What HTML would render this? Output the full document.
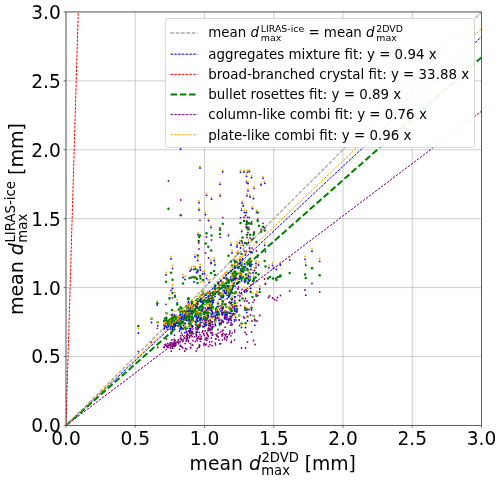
<!DOCTYPE html>
<html><head><meta charset="utf-8"><title>plot</title>
<style>
html,body{margin:0;padding:0;background:#fff;}
svg{display:block;}
text{font-family:"DejaVu Sans", "Liberation Sans", sans-serif;fill:#000;}
.b{fill:#00f}.o{fill:#ffa500}.p{fill:#800080}.g{fill:#008000}
</style></head><body>
<svg width="500" height="480" viewBox="0 0 500 480">
<rect width="500" height="480" fill="#fff"/>
<defs><clipPath id="ax"><rect x="66.00" y="11.95" width="415.50" height="413.45"/></clipPath></defs>
<g stroke="#b0b0b0" stroke-width="0.75" opacity="0.85"><line x1="66.00" y1="425.40" x2="66.00" y2="11.95"/><line x1="66.00" y1="425.40" x2="481.50" y2="425.40"/><line x1="135.25" y1="425.40" x2="135.25" y2="11.95"/><line x1="66.00" y1="356.49" x2="481.50" y2="356.49"/><line x1="204.50" y1="425.40" x2="204.50" y2="11.95"/><line x1="66.00" y1="287.58" x2="481.50" y2="287.58"/><line x1="273.75" y1="425.40" x2="273.75" y2="11.95"/><line x1="66.00" y1="218.67" x2="481.50" y2="218.67"/><line x1="343.00" y1="425.40" x2="343.00" y2="11.95"/><line x1="66.00" y1="149.77" x2="481.50" y2="149.77"/><line x1="412.25" y1="425.40" x2="412.25" y2="11.95"/><line x1="66.00" y1="80.86" x2="481.50" y2="80.86"/><line x1="481.50" y1="425.40" x2="481.50" y2="11.95"/><line x1="66.00" y1="11.95" x2="481.50" y2="11.95"/></g>
<g clip-path="url(#ax)"><line x1="66.00" y1="425.40" x2="481.50" y2="11.95" stroke="#a8a8a8" stroke-width="1.30" stroke-dasharray="3.7 1.6"/>
<g><circle class="b" cx="253" cy="273" r="0.9"/><circle class="g" cx="253" cy="281" r="1.25"/><circle class="p" cx="253" cy="302.3" r="0.9"/><circle class="o" cx="253" cy="270.5" r="0.9"/><circle class="b" cx="187.6" cy="312.8" r="0.9"/><circle class="g" cx="187.6" cy="308.3" r="1.25"/><circle class="p" cx="187.6" cy="334.3" r="0.9"/><circle class="o" cx="187.6" cy="308.3" r="0.9"/><circle class="b" cx="207.2" cy="312.9" r="0.9"/><circle class="g" cx="207.2" cy="310.2" r="1.25"/><circle class="p" cx="207.2" cy="334.2" r="0.9"/><circle class="o" cx="207.2" cy="308.1" r="0.9"/><circle class="g" cx="241" cy="269.5" r="1.25"/><circle class="b" cx="242.2" cy="203.2" r="0.9"/><circle class="o" cx="242.2" cy="201.3" r="0.9"/><circle class="b" cx="191" cy="331.6" r="0.9"/><circle class="g" cx="191" cy="324.9" r="1.25"/><circle class="o" cx="191" cy="326.3" r="0.9"/><circle class="g" cx="236" cy="262" r="1.25"/><circle class="p" cx="236" cy="320" r="0.9"/><circle class="b" cx="222.1" cy="288.1" r="0.9"/><circle class="g" cx="222.1" cy="284.8" r="1.25"/><circle class="p" cx="222.1" cy="313.6" r="0.9"/><circle class="o" cx="222.1" cy="284.3" r="0.9"/><circle class="b" cx="177.2" cy="303" r="0.9"/><circle class="g" cx="177.2" cy="304.5" r="1.25"/><circle class="b" cx="193.7" cy="311.4" r="0.9"/><circle class="g" cx="193.7" cy="305.1" r="1.25"/><circle class="p" cx="193.7" cy="333.6" r="0.9"/><circle class="o" cx="193.7" cy="306" r="0.9"/><circle class="b" cx="229.6" cy="293.9" r="0.9"/><circle class="g" cx="229.6" cy="286.5" r="1.25"/><circle class="p" cx="229.6" cy="319.3" r="0.9"/><circle class="o" cx="229.6" cy="289" r="0.9"/><circle class="b" cx="181.4" cy="311.4" r="0.9"/><circle class="g" cx="181.4" cy="308.3" r="1.25"/><circle class="p" cx="181.4" cy="333.1" r="0.9"/><circle class="o" cx="181.4" cy="307.1" r="0.9"/><circle class="b" cx="157.8" cy="325.7" r="0.9"/><circle class="g" cx="157.8" cy="322.3" r="1.25"/><circle class="p" cx="157.8" cy="347.5" r="0.9"/><circle class="o" cx="157.8" cy="322" r="0.9"/><circle class="b" cx="202.9" cy="307.8" r="0.9"/><circle class="g" cx="202.9" cy="307.3" r="1.25"/><circle class="p" cx="202.9" cy="331" r="0.9"/><circle class="o" cx="202.9" cy="303.6" r="0.9"/><circle class="b" cx="182.5" cy="316.4" r="0.9"/><circle class="g" cx="182.5" cy="311.3" r="1.25"/><circle class="o" cx="182.5" cy="313.1" r="0.9"/><circle class="b" cx="218.2" cy="317" r="0.9"/><circle class="g" cx="218.2" cy="313.3" r="1.25"/><circle class="p" cx="218.2" cy="337" r="0.9"/><circle class="o" cx="218.2" cy="312.7" r="0.9"/><circle class="b" cx="242.5" cy="259" r="0.9"/><circle class="g" cx="242.5" cy="237.5" r="1.25"/><circle class="g" cx="242.5" cy="271.5" r="1.25"/><circle class="g" cx="242.5" cy="298.5" r="1.25"/><circle class="o" cx="242.5" cy="256.5" r="0.9"/><circle class="o" cx="242.5" cy="295.3" r="0.9"/><circle class="b" cx="168.4" cy="327" r="0.9"/><circle class="g" cx="168.4" cy="322.5" r="1.25"/><circle class="p" cx="168.4" cy="345.4" r="0.9"/><circle class="o" cx="168.4" cy="322.5" r="0.9"/><circle class="b" cx="226.6" cy="291.9" r="0.9"/><circle class="b" cx="226.6" cy="319.5" r="0.9"/><circle class="g" cx="226.6" cy="289.9" r="1.25"/><circle class="g" cx="226.6" cy="314.6" r="1.25"/><circle class="p" cx="226.6" cy="316.9" r="0.9"/><circle class="p" cx="226.6" cy="340.1" r="0.9"/><circle class="o" cx="226.6" cy="288.2" r="0.9"/><circle class="o" cx="226.6" cy="314.7" r="0.9"/><circle class="g" cx="276.5" cy="280" r="1.25"/><circle class="p" cx="276.5" cy="300.3" r="0.9"/><circle class="o" cx="208" cy="280" r="0.9"/><circle class="b" cx="226.2" cy="283.9" r="0.9"/><circle class="g" cx="226.2" cy="278.3" r="1.25"/><circle class="p" cx="226.2" cy="311.7" r="0.9"/><circle class="o" cx="226.2" cy="280.5" r="0.9"/><circle class="b" cx="187.1" cy="314.3" r="0.9"/><circle class="b" cx="187.1" cy="315.7" r="0.9"/><circle class="g" cx="187.1" cy="311.3" r="1.25"/><circle class="g" cx="187.1" cy="311.9" r="1.25"/><circle class="p" cx="187.1" cy="335.5" r="0.9"/><circle class="p" cx="187.1" cy="336.2" r="0.9"/><circle class="o" cx="187.1" cy="309.6" r="0.9"/><circle class="o" cx="187.1" cy="311.4" r="0.9"/><circle class="b" cx="219.9" cy="293.2" r="0.9"/><circle class="g" cx="219.9" cy="294.2" r="1.25"/><circle class="p" cx="219.9" cy="319.3" r="0.9"/><circle class="o" cx="219.9" cy="288.7" r="0.9"/><circle class="b" cx="202.3" cy="310.9" r="0.9"/><circle class="g" cx="202.3" cy="302" r="1.25"/><circle class="p" cx="202.3" cy="332.3" r="0.9"/><circle class="o" cx="202.3" cy="306.7" r="0.9"/><circle class="b" cx="199.1" cy="326.8" r="0.9"/><circle class="g" cx="199.1" cy="325.6" r="1.25"/><circle class="p" cx="199.1" cy="347" r="0.9"/><circle class="o" cx="199.1" cy="322.4" r="0.9"/><circle class="b" cx="190" cy="271" r="0.9"/><circle class="o" cx="190" cy="268.5" r="0.9"/><circle class="b" cx="232.1" cy="299.8" r="0.9"/><circle class="b" cx="232.1" cy="311.1" r="0.9"/><circle class="g" cx="232.1" cy="292.8" r="1.25"/><circle class="g" cx="232.1" cy="305.3" r="1.25"/><circle class="p" cx="232.1" cy="324.4" r="0.9"/><circle class="p" cx="232.1" cy="333.1" r="0.9"/><circle class="o" cx="232.1" cy="295.5" r="0.9"/><circle class="o" cx="232.1" cy="306.4" r="0.9"/><circle class="b" cx="224" cy="278" r="0.9"/><circle class="b" cx="210.7" cy="302" r="0.9"/><circle class="g" cx="210.7" cy="300.8" r="1.25"/><circle class="p" cx="210.7" cy="324.9" r="0.9"/><circle class="o" cx="210.7" cy="298.8" r="0.9"/><circle class="b" cx="180.6" cy="316.7" r="0.9"/><circle class="b" cx="180.6" cy="318.5" r="0.9"/><circle class="b" cx="180.6" cy="326.5" r="0.9"/><circle class="g" cx="180.6" cy="307.3" r="1.25"/><circle class="g" cx="180.6" cy="310.8" r="1.25"/><circle class="g" cx="180.6" cy="328.8" r="1.25"/><circle class="p" cx="180.6" cy="338.1" r="0.9"/><circle class="p" cx="180.6" cy="338.6" r="0.9"/><circle class="p" cx="180.6" cy="345.3" r="0.9"/><circle class="o" cx="180.6" cy="311.7" r="0.9"/><circle class="o" cx="180.6" cy="314.1" r="0.9"/><circle class="o" cx="180.6" cy="321.4" r="0.9"/><circle class="b" cx="210.6" cy="303.2" r="0.9"/><circle class="g" cx="210.6" cy="300.6" r="1.25"/><circle class="p" cx="210.6" cy="326.3" r="0.9"/><circle class="o" cx="210.6" cy="300.1" r="0.9"/><circle class="b" cx="246.3" cy="212.5" r="0.9"/><circle class="p" cx="246.3" cy="251.5" r="0.9"/><circle class="o" cx="246.3" cy="210.6" r="0.9"/><circle class="b" cx="251.9" cy="264.6" r="0.9"/><circle class="g" cx="251.9" cy="252.6" r="1.25"/><circle class="o" cx="251.9" cy="261.3" r="0.9"/><circle class="b" cx="241.5" cy="210.2" r="0.9"/><circle class="b" cx="241.5" cy="266" r="0.9"/><circle class="b" cx="241.5" cy="269" r="0.9"/><circle class="b" cx="241.5" cy="327.5" r="0.9"/><circle class="g" cx="241.5" cy="241" r="1.25"/><circle class="g" cx="241.5" cy="254" r="1.25"/><circle class="g" cx="241.5" cy="262.8" r="1.25"/><circle class="g" cx="241.5" cy="278.5" r="1.25"/><circle class="g" cx="241.5" cy="323.5" r="1.25"/><circle class="p" cx="241.5" cy="293.5" r="0.9"/><circle class="p" cx="241.5" cy="348" r="0.9"/><circle class="o" cx="241.5" cy="208.3" r="0.9"/><circle class="o" cx="241.5" cy="263.5" r="0.9"/><circle class="o" cx="241.5" cy="266.2" r="0.9"/><circle class="o" cx="241.5" cy="324.5" r="0.9"/><circle class="b" cx="251.5" cy="177.5" r="0.9"/><circle class="b" cx="251.5" cy="310" r="0.9"/><circle class="g" cx="251.5" cy="223.7" r="1.25"/><circle class="g" cx="251.5" cy="308" r="1.25"/><circle class="p" cx="251.5" cy="222" r="0.9"/><circle class="p" cx="251.5" cy="332" r="0.9"/><circle class="o" cx="251.5" cy="175.8" r="0.9"/><circle class="o" cx="251.5" cy="306" r="0.9"/><circle class="g" cx="252.5" cy="297" r="1.25"/><circle class="g" cx="255" cy="320.5" r="1.25"/><circle class="p" cx="255" cy="344.5" r="0.9"/><circle class="o" cx="255" cy="319.5" r="0.9"/><circle class="b" cx="196.4" cy="312" r="0.9"/><circle class="b" cx="196.4" cy="314.1" r="0.9"/><circle class="g" cx="196.4" cy="308.1" r="1.25"/><circle class="g" cx="196.4" cy="311.3" r="1.25"/><circle class="p" cx="196.4" cy="334.5" r="0.9"/><circle class="p" cx="196.4" cy="335.2" r="0.9"/><circle class="o" cx="196.4" cy="307.7" r="0.9"/><circle class="o" cx="196.4" cy="308.7" r="0.9"/><circle class="b" cx="269" cy="267.7" r="0.9"/><circle class="o" cx="269" cy="265.2" r="0.9"/><circle class="o" cx="177" cy="299.8" r="0.9"/><circle class="p" cx="251" cy="285" r="0.9"/><circle class="b" cx="192.8" cy="321.1" r="0.9"/><circle class="g" cx="192.8" cy="320.3" r="1.25"/><circle class="p" cx="192.8" cy="340.6" r="0.9"/><circle class="o" cx="192.8" cy="316.5" r="0.9"/><circle class="b" cx="235.7" cy="291.6" r="0.9"/><circle class="g" cx="235.7" cy="292.4" r="1.25"/><circle class="p" cx="235.7" cy="317.5" r="0.9"/><circle class="o" cx="235.7" cy="288.1" r="0.9"/><circle class="b" cx="225.3" cy="315.2" r="0.9"/><circle class="g" cx="225.3" cy="312.8" r="1.25"/><circle class="p" cx="225.3" cy="335.9" r="0.9"/><circle class="o" cx="225.3" cy="310.8" r="0.9"/><circle class="b" cx="226" cy="275" r="0.9"/><circle class="b" cx="203.7" cy="313.4" r="0.9"/><circle class="g" cx="203.7" cy="312.6" r="1.25"/><circle class="p" cx="203.7" cy="334" r="0.9"/><circle class="o" cx="203.7" cy="309.3" r="0.9"/><circle class="g" cx="198.7" cy="241" r="1.25"/><circle class="b" cx="197.5" cy="308.2" r="0.9"/><circle class="b" cx="197.5" cy="318.2" r="0.9"/><circle class="g" cx="197.5" cy="271.5" r="1.25"/><circle class="g" cx="197.5" cy="283" r="1.25"/><circle class="g" cx="197.5" cy="303.4" r="1.25"/><circle class="g" cx="197.5" cy="315.4" r="1.25"/><circle class="p" cx="197.5" cy="329.6" r="0.9"/><circle class="p" cx="197.5" cy="337.9" r="0.9"/><circle class="o" cx="197.5" cy="273.5" r="0.9"/><circle class="o" cx="197.5" cy="305.1" r="0.9"/><circle class="o" cx="197.5" cy="314.5" r="0.9"/><circle class="g" cx="214" cy="271" r="1.25"/><circle class="g" cx="273" cy="278.5" r="1.25"/><circle class="b" cx="166.7" cy="327.6" r="0.9"/><circle class="g" cx="166.7" cy="318.9" r="1.25"/><circle class="p" cx="166.7" cy="345.9" r="0.9"/><circle class="o" cx="166.7" cy="322.3" r="0.9"/><circle class="p" cx="274.5" cy="299.5" r="0.9"/><circle class="b" cx="244.7" cy="282.2" r="0.9"/><circle class="g" cx="244.7" cy="280.7" r="1.25"/><circle class="o" cx="244.7" cy="278.3" r="0.9"/><circle class="b" cx="280.3" cy="265" r="0.9"/><circle class="o" cx="280.3" cy="262.3" r="0.9"/><circle class="b" cx="208.5" cy="220.7" r="0.9"/><circle class="b" cx="208.5" cy="301" r="0.9"/><circle class="b" cx="208.5" cy="328.2" r="0.9"/><circle class="g" cx="208.5" cy="297.6" r="1.25"/><circle class="g" cx="208.5" cy="323.6" r="1.25"/><circle class="p" cx="208.5" cy="258" r="0.9"/><circle class="p" cx="208.5" cy="325.6" r="0.9"/><circle class="p" cx="208.5" cy="346.3" r="0.9"/><circle class="o" cx="208.5" cy="218.9" r="0.9"/><circle class="o" cx="208.5" cy="296.7" r="0.9"/><circle class="o" cx="208.5" cy="323.2" r="0.9"/><circle class="b" cx="228.2" cy="293.1" r="0.9"/><circle class="g" cx="228.2" cy="286.1" r="1.25"/><circle class="p" cx="228.2" cy="319.2" r="0.9"/><circle class="o" cx="228.2" cy="289.5" r="0.9"/><circle class="b" cx="230.8" cy="277.1" r="0.9"/><circle class="b" cx="230.8" cy="303.2" r="0.9"/><circle class="g" cx="230.8" cy="271.3" r="1.25"/><circle class="g" cx="230.8" cy="303.1" r="1.25"/><circle class="p" cx="230.8" cy="303.7" r="0.9"/><circle class="p" cx="230.8" cy="325.2" r="0.9"/><circle class="o" cx="230.8" cy="273.7" r="0.9"/><circle class="o" cx="230.8" cy="299.2" r="0.9"/><circle class="b" cx="183.6" cy="325.5" r="0.9"/><circle class="g" cx="183.6" cy="323.3" r="1.25"/><circle class="o" cx="183.6" cy="320.2" r="0.9"/><circle class="b" cx="195.9" cy="322.4" r="0.9"/><circle class="g" cx="195.9" cy="324.4" r="1.25"/><circle class="o" cx="195.9" cy="317.8" r="0.9"/><circle class="b" cx="171.7" cy="326" r="0.9"/><circle class="g" cx="171.7" cy="323.5" r="1.25"/><circle class="o" cx="171.7" cy="321.7" r="0.9"/><circle class="g" cx="278" cy="277" r="1.25"/><circle class="b" cx="243.4" cy="271.8" r="0.9"/><circle class="g" cx="243.4" cy="266.9" r="1.25"/><circle class="o" cx="243.4" cy="267.9" r="0.9"/><circle class="g" cx="259" cy="225.7" r="1.25"/><circle class="b" cx="218.6" cy="288.4" r="0.9"/><circle class="b" cx="218.6" cy="291.7" r="0.9"/><circle class="g" cx="218.6" cy="282.6" r="1.25"/><circle class="g" cx="218.6" cy="287.8" r="1.25"/><circle class="p" cx="218.6" cy="314.3" r="0.9"/><circle class="p" cx="218.6" cy="317" r="0.9"/><circle class="o" cx="218.6" cy="284.2" r="0.9"/><circle class="o" cx="218.6" cy="286.8" r="0.9"/><circle class="b" cx="221.3" cy="297.2" r="0.9"/><circle class="g" cx="221.3" cy="292.9" r="1.25"/><circle class="p" cx="221.3" cy="322.4" r="0.9"/><circle class="o" cx="221.3" cy="292.8" r="0.9"/><circle class="b" cx="192.2" cy="304.7" r="0.9"/><circle class="b" cx="192.2" cy="310.3" r="0.9"/><circle class="b" cx="192.2" cy="316.2" r="0.9"/><circle class="g" cx="192.2" cy="301.5" r="1.25"/><circle class="g" cx="192.2" cy="304.2" r="1.25"/><circle class="g" cx="192.2" cy="308.4" r="1.25"/><circle class="p" cx="192.2" cy="327.7" r="0.9"/><circle class="p" cx="192.2" cy="332.2" r="0.9"/><circle class="p" cx="192.2" cy="336.4" r="0.9"/><circle class="o" cx="192.2" cy="300.4" r="0.9"/><circle class="o" cx="192.2" cy="305.9" r="0.9"/><circle class="o" cx="192.2" cy="312.1" r="0.9"/><circle class="b" cx="165.7" cy="323.5" r="0.9"/><circle class="g" cx="165.7" cy="319" r="1.25"/><circle class="p" cx="165.7" cy="344.3" r="0.9"/><circle class="o" cx="165.7" cy="320.5" r="0.9"/><circle class="b" cx="220" cy="184.3" r="0.9"/><circle class="g" cx="220" cy="229.8" r="1.25"/><circle class="g" cx="220" cy="234" r="1.25"/><circle class="p" cx="220" cy="228" r="0.9"/><circle class="o" cx="220" cy="182.6" r="0.9"/><circle class="o" cx="220" cy="279" r="0.9"/><circle class="b" cx="305" cy="259.3" r="0.9"/><circle class="g" cx="305" cy="274.5" r="1.25"/><circle class="p" cx="305" cy="290" r="0.9"/><circle class="o" cx="305" cy="256.5" r="0.9"/><circle class="b" cx="192.6" cy="312.3" r="0.9"/><circle class="b" cx="192.6" cy="326.3" r="0.9"/><circle class="g" cx="192.6" cy="311.2" r="1.25"/><circle class="g" cx="192.6" cy="318.2" r="1.25"/><circle class="p" cx="192.6" cy="333.6" r="0.9"/><circle class="p" cx="192.6" cy="345.2" r="0.9"/><circle class="o" cx="192.6" cy="307.6" r="0.9"/><circle class="o" cx="192.6" cy="321.6" r="0.9"/><circle class="b" cx="222.4" cy="320.3" r="0.9"/><circle class="g" cx="222.4" cy="312.8" r="1.25"/><circle class="p" cx="222.4" cy="340.1" r="0.9"/><circle class="o" cx="222.4" cy="315.5" r="0.9"/><circle class="b" cx="221.7" cy="312" r="0.9"/><circle class="g" cx="221.7" cy="306.8" r="1.25"/><circle class="p" cx="221.7" cy="334.6" r="0.9"/><circle class="o" cx="221.7" cy="307.9" r="0.9"/><circle class="b" cx="206.2" cy="325.2" r="0.9"/><circle class="g" cx="206.2" cy="317.9" r="1.25"/><circle class="p" cx="206.2" cy="344.1" r="0.9"/><circle class="o" cx="206.2" cy="320.8" r="0.9"/><circle class="b" cx="209.6" cy="323.4" r="0.9"/><circle class="g" cx="209.6" cy="320.3" r="1.25"/><circle class="p" cx="209.6" cy="341.9" r="0.9"/><circle class="o" cx="209.6" cy="318.9" r="0.9"/><circle class="b" cx="165.9" cy="326.5" r="0.9"/><circle class="g" cx="165.9" cy="321.1" r="1.25"/><circle class="p" cx="165.9" cy="345.5" r="0.9"/><circle class="o" cx="165.9" cy="321.8" r="0.9"/><circle class="b" cx="181.9" cy="319" r="0.9"/><circle class="g" cx="181.9" cy="312.3" r="1.25"/><circle class="p" cx="181.9" cy="339.7" r="0.9"/><circle class="o" cx="181.9" cy="314.5" r="0.9"/><circle class="b" cx="241.9" cy="278.6" r="0.9"/><circle class="g" cx="241.9" cy="277.1" r="1.25"/><circle class="o" cx="241.9" cy="274.1" r="0.9"/><circle class="b" cx="200.9" cy="298.7" r="0.9"/><circle class="g" cx="200.9" cy="301.5" r="1.25"/><circle class="p" cx="200.9" cy="322.2" r="0.9"/><circle class="o" cx="200.9" cy="294.7" r="0.9"/><circle class="b" cx="189.7" cy="315.8" r="0.9"/><circle class="g" cx="189.7" cy="319.3" r="1.25"/><circle class="p" cx="189.7" cy="336.9" r="0.9"/><circle class="o" cx="189.7" cy="311.8" r="0.9"/><circle class="b" cx="204.1" cy="323.6" r="0.9"/><circle class="g" cx="204.1" cy="317" r="1.25"/><circle class="p" cx="204.1" cy="343.4" r="0.9"/><circle class="o" cx="204.1" cy="319.8" r="0.9"/><circle class="b" cx="166" cy="275" r="0.9"/><circle class="g" cx="166" cy="281.7" r="1.25"/><circle class="p" cx="166" cy="304.3" r="0.9"/><circle class="o" cx="166" cy="272.5" r="0.9"/><circle class="b" cx="202.5" cy="274" r="0.9"/><circle class="b" cx="202.5" cy="309.5" r="0.9"/><circle class="g" cx="202.5" cy="307" r="1.25"/><circle class="o" cx="202.5" cy="305.2" r="0.9"/><circle class="g" cx="168.5" cy="208.8" r="1.25"/><circle class="g" cx="168.5" cy="320.3" r="1.25"/><circle class="p" cx="168.5" cy="181" r="0.9"/><circle class="p" cx="168.5" cy="345.5" r="0.9"/><circle class="b" cx="272.5" cy="265.5" r="0.9"/><circle class="o" cx="272.5" cy="262.8" r="0.9"/><circle class="b" cx="200.4" cy="301.5" r="0.9"/><circle class="b" cx="200.4" cy="322.5" r="0.9"/><circle class="g" cx="200.4" cy="299.7" r="1.25"/><circle class="g" cx="200.4" cy="318.6" r="1.25"/><circle class="p" cx="200.4" cy="325.5" r="0.9"/><circle class="p" cx="200.4" cy="341.3" r="0.9"/><circle class="o" cx="200.4" cy="296.3" r="0.9"/><circle class="o" cx="200.4" cy="317.7" r="0.9"/><circle class="b" cx="206.5" cy="195.3" r="0.9"/><circle class="b" cx="206.5" cy="278.5" r="0.9"/><circle class="g" cx="206.5" cy="233.3" r="1.25"/><circle class="p" cx="206.5" cy="237" r="0.9"/><circle class="o" cx="206.5" cy="193.5" r="0.9"/><circle class="o" cx="206.5" cy="275.5" r="0.9"/><circle class="b" cx="319.7" cy="261.3" r="0.9"/><circle class="g" cx="319.7" cy="275.3" r="1.25"/><circle class="p" cx="319.7" cy="292" r="0.9"/><circle class="o" cx="319.7" cy="258.5" r="0.9"/><circle class="b" cx="186.3" cy="316.5" r="0.9"/><circle class="b" cx="186.3" cy="317" r="0.9"/><circle class="g" cx="186.3" cy="312.1" r="1.25"/><circle class="g" cx="186.3" cy="316.4" r="1.25"/><circle class="p" cx="186.3" cy="336.5" r="0.9"/><circle class="p" cx="186.3" cy="339.1" r="0.9"/><circle class="o" cx="186.3" cy="312.2" r="0.9"/><circle class="o" cx="186.3" cy="312.8" r="0.9"/><circle class="b" cx="189.1" cy="308.9" r="0.9"/><circle class="g" cx="189.1" cy="303.7" r="1.25"/><circle class="p" cx="189.1" cy="331" r="0.9"/><circle class="o" cx="189.1" cy="304.7" r="0.9"/><circle class="b" cx="246.7" cy="278.3" r="0.9"/><circle class="b" cx="246.7" cy="312.5" r="0.9"/><circle class="g" cx="246.7" cy="278.3" r="1.25"/><circle class="g" cx="246.7" cy="309.5" r="1.25"/><circle class="o" cx="246.7" cy="274.9" r="0.9"/><circle class="b" cx="204.5" cy="273.5" r="0.9"/><circle class="o" cx="204.5" cy="271" r="0.9"/><circle class="g" cx="243" cy="277" r="1.25"/><circle class="p" cx="243.5" cy="317" r="0.9"/><circle class="b" cx="220.7" cy="324" r="0.9"/><circle class="g" cx="220.7" cy="319.9" r="1.25"/><circle class="p" cx="220.7" cy="343.6" r="0.9"/><circle class="o" cx="220.7" cy="319.8" r="0.9"/><circle class="b" cx="166.3" cy="317.3" r="0.9"/><circle class="b" cx="228.5" cy="235.5" r="0.9"/><circle class="b" cx="228.5" cy="295.8" r="0.9"/><circle class="b" cx="228.5" cy="297.4" r="0.9"/><circle class="g" cx="228.5" cy="255.7" r="1.25"/><circle class="g" cx="228.5" cy="287.1" r="1.25"/><circle class="g" cx="228.5" cy="288.5" r="1.25"/><circle class="p" cx="228.5" cy="320" r="0.9"/><circle class="p" cx="228.5" cy="321.9" r="0.9"/><circle class="o" cx="228.5" cy="233.7" r="0.9"/><circle class="o" cx="228.5" cy="292.2" r="0.9"/><circle class="o" cx="228.5" cy="292.7" r="0.9"/><circle class="b" cx="249.3" cy="171.5" r="0.9"/><circle class="b" cx="249.3" cy="229.3" r="0.9"/><circle class="p" cx="249.3" cy="217.5" r="0.9"/><circle class="o" cx="249.3" cy="169.8" r="0.9"/><circle class="o" cx="249.3" cy="227.4" r="0.9"/><circle class="p" cx="265.3" cy="284" r="0.9"/><circle class="b" cx="202.2" cy="294.9" r="0.9"/><circle class="g" cx="202.2" cy="291.2" r="1.25"/><circle class="p" cx="202.2" cy="320" r="0.9"/><circle class="o" cx="202.2" cy="291" r="0.9"/><circle class="b" cx="167.5" cy="329.3" r="0.9"/><circle class="g" cx="167.5" cy="323.1" r="1.25"/><circle class="p" cx="167.5" cy="347.4" r="0.9"/><circle class="o" cx="167.5" cy="323.7" r="0.9"/><circle class="b" cx="201.2" cy="314.8" r="0.9"/><circle class="g" cx="201.2" cy="307" r="1.25"/><circle class="p" cx="201.2" cy="336.3" r="0.9"/><circle class="o" cx="201.2" cy="310.2" r="0.9"/><circle class="b" cx="201.4" cy="318.2" r="0.9"/><circle class="g" cx="201.4" cy="314.6" r="1.25"/><circle class="p" cx="201.4" cy="338.3" r="0.9"/><circle class="o" cx="201.4" cy="314.1" r="0.9"/><circle class="b" cx="173.9" cy="326.5" r="0.9"/><circle class="g" cx="173.9" cy="324.4" r="1.25"/><circle class="p" cx="173.9" cy="345.5" r="0.9"/><circle class="o" cx="173.9" cy="322.4" r="0.9"/><circle class="b" cx="243.2" cy="206" r="0.9"/><circle class="o" cx="243.2" cy="204.1" r="0.9"/><circle class="b" cx="256.5" cy="212.3" r="0.9"/><circle class="g" cx="256.5" cy="242" r="1.25"/><circle class="g" cx="256.5" cy="296" r="1.25"/><circle class="p" cx="256.5" cy="251" r="0.9"/><circle class="o" cx="256.5" cy="210.4" r="0.9"/><circle class="o" cx="256.5" cy="291.5" r="0.9"/><circle class="b" cx="238.5" cy="268.4" r="0.9"/><circle class="g" cx="238.5" cy="263.9" r="1.25"/><circle class="p" cx="238.5" cy="287" r="0.9"/><circle class="o" cx="238.5" cy="265" r="0.9"/><circle class="b" cx="185" cy="279.5" r="0.9"/><circle class="b" cx="185" cy="317.5" r="0.9"/><circle class="g" cx="185" cy="313.6" r="1.25"/><circle class="o" cx="185" cy="276.5" r="0.9"/><circle class="o" cx="185" cy="313.6" r="0.9"/><circle class="b" cx="239.5" cy="243" r="0.9"/><circle class="b" cx="239.5" cy="263.5" r="0.9"/><circle class="g" cx="239.5" cy="300.5" r="1.25"/><circle class="p" cx="239.5" cy="282" r="0.9"/><circle class="p" cx="239.5" cy="292.5" r="0.9"/><circle class="p" cx="239.5" cy="325.5" r="0.9"/><circle class="o" cx="239.5" cy="240.5" r="0.9"/><circle class="o" cx="239.5" cy="261" r="0.9"/><circle class="o" cx="239.5" cy="297.5" r="0.9"/><circle class="p" cx="272.7" cy="298" r="0.9"/><circle class="b" cx="231" cy="245" r="0.9"/><circle class="b" cx="231" cy="313.6" r="0.9"/><circle class="g" cx="231" cy="261.5" r="1.25"/><circle class="g" cx="231" cy="311.3" r="1.25"/><circle class="p" cx="231" cy="279" r="0.9"/><circle class="p" cx="231" cy="335.8" r="0.9"/><circle class="o" cx="231" cy="243" r="0.9"/><circle class="o" cx="231" cy="309.4" r="0.9"/><circle class="b" cx="180.3" cy="328.4" r="0.9"/><circle class="g" cx="180.3" cy="325.2" r="1.25"/><circle class="p" cx="180.3" cy="346.2" r="0.9"/><circle class="o" cx="180.3" cy="323.1" r="0.9"/><circle class="b" cx="250.9" cy="269.5" r="0.9"/><circle class="g" cx="250.9" cy="264.2" r="1.25"/><circle class="o" cx="250.9" cy="266.3" r="0.9"/><circle class="b" cx="190.4" cy="310.6" r="0.9"/><circle class="b" cx="190.4" cy="323.7" r="0.9"/><circle class="g" cx="190.4" cy="307.5" r="1.25"/><circle class="g" cx="190.4" cy="321.6" r="1.25"/><circle class="p" cx="190.4" cy="332.4" r="0.9"/><circle class="p" cx="190.4" cy="343.6" r="0.9"/><circle class="o" cx="190.4" cy="306.4" r="0.9"/><circle class="o" cx="190.4" cy="320.2" r="0.9"/><circle class="b" cx="207.7" cy="317" r="0.9"/><circle class="g" cx="207.7" cy="310.3" r="1.25"/><circle class="p" cx="207.7" cy="338.4" r="0.9"/><circle class="o" cx="207.7" cy="312" r="0.9"/><circle class="b" cx="233.8" cy="280" r="0.9"/><circle class="g" cx="233.8" cy="278.6" r="1.25"/><circle class="p" cx="233.8" cy="307.8" r="0.9"/><circle class="o" cx="233.8" cy="276.1" r="0.9"/><circle class="o" cx="217" cy="282" r="0.9"/><circle class="b" cx="230" cy="290.4" r="0.9"/><circle class="b" cx="230" cy="293.9" r="0.9"/><circle class="b" cx="230" cy="309.5" r="0.9"/><circle class="g" cx="230" cy="291.6" r="1.25"/><circle class="g" cx="230" cy="291.6" r="1.25"/><circle class="g" cx="230" cy="302.8" r="1.25"/><circle class="p" cx="230" cy="316.3" r="0.9"/><circle class="p" cx="230" cy="318.4" r="0.9"/><circle class="p" cx="230" cy="330.9" r="0.9"/><circle class="o" cx="230" cy="287.1" r="0.9"/><circle class="o" cx="230" cy="289.6" r="0.9"/><circle class="o" cx="230" cy="304.8" r="0.9"/><circle class="b" cx="224.6" cy="292.4" r="0.9"/><circle class="g" cx="224.6" cy="286.5" r="1.25"/><circle class="p" cx="224.6" cy="318.6" r="0.9"/><circle class="o" cx="224.6" cy="289" r="0.9"/><circle class="b" cx="212.1" cy="311.1" r="0.9"/><circle class="g" cx="212.1" cy="307" r="1.25"/><circle class="p" cx="212.1" cy="333.2" r="0.9"/><circle class="o" cx="212.1" cy="306.6" r="0.9"/><circle class="b" cx="180.2" cy="322.1" r="0.9"/><circle class="g" cx="180.2" cy="315.1" r="1.25"/><circle class="p" cx="180.2" cy="341.7" r="0.9"/><circle class="o" cx="180.2" cy="317.1" r="0.9"/><circle class="b" cx="225.1" cy="304.1" r="0.9"/><circle class="g" cx="225.1" cy="304.5" r="1.25"/><circle class="p" cx="225.1" cy="327.2" r="0.9"/><circle class="o" cx="225.1" cy="299.4" r="0.9"/><circle class="b" cx="195.3" cy="321.4" r="0.9"/><circle class="g" cx="195.3" cy="315" r="1.25"/><circle class="p" cx="195.3" cy="341.4" r="0.9"/><circle class="o" cx="195.3" cy="316.4" r="0.9"/><circle class="b" cx="189.5" cy="328.6" r="0.9"/><circle class="g" cx="189.5" cy="278" r="1.25"/><circle class="g" cx="189.5" cy="326.3" r="1.25"/><circle class="o" cx="189.5" cy="324.6" r="0.9"/><circle class="b" cx="180.5" cy="149" r="0.9"/><circle class="b" cx="195" cy="257" r="0.9"/><circle class="o" cx="195" cy="254.5" r="0.9"/><circle class="b" cx="245.1" cy="267.6" r="0.9"/><circle class="g" cx="245.1" cy="266.8" r="1.25"/><circle class="o" cx="245.1" cy="263.8" r="0.9"/><circle class="b" cx="312" cy="251.2" r="0.9"/><circle class="g" cx="312" cy="268.3" r="1.25"/><circle class="p" cx="312" cy="283.5" r="0.9"/><circle class="o" cx="312" cy="248.6" r="0.9"/><circle class="b" cx="228" cy="273" r="0.9"/><circle class="g" cx="228" cy="280" r="1.25"/><circle class="p" cx="268.5" cy="297.5" r="0.9"/><circle class="b" cx="211.4" cy="316.6" r="0.9"/><circle class="g" cx="211.4" cy="313.6" r="1.25"/><circle class="p" cx="211.4" cy="338" r="0.9"/><circle class="o" cx="211.4" cy="312.3" r="0.9"/><circle class="b" cx="175.6" cy="323.2" r="0.9"/><circle class="b" cx="175.6" cy="325.3" r="0.9"/><circle class="b" cx="175.6" cy="325.6" r="0.9"/><circle class="g" cx="175.6" cy="316.7" r="1.25"/><circle class="g" cx="175.6" cy="317.3" r="1.25"/><circle class="g" cx="175.6" cy="320.5" r="1.25"/><circle class="p" cx="175.6" cy="342.7" r="0.9"/><circle class="p" cx="175.6" cy="344.3" r="0.9"/><circle class="p" cx="175.6" cy="345.6" r="0.9"/><circle class="o" cx="175.6" cy="318.5" r="0.9"/><circle class="o" cx="175.6" cy="320.5" r="0.9"/><circle class="o" cx="175.6" cy="321.5" r="0.9"/><circle class="b" cx="194.7" cy="316.3" r="0.9"/><circle class="g" cx="194.7" cy="309.1" r="1.25"/><circle class="p" cx="194.7" cy="336.9" r="0.9"/><circle class="o" cx="194.7" cy="311.6" r="0.9"/><circle class="b" cx="177.9" cy="323.3" r="0.9"/><circle class="g" cx="177.9" cy="319.6" r="1.25"/><circle class="p" cx="177.9" cy="342.3" r="0.9"/><circle class="o" cx="177.9" cy="319.1" r="0.9"/><circle class="p" cx="264.5" cy="279" r="0.9"/><circle class="b" cx="229.3" cy="292.9" r="0.9"/><circle class="g" cx="229.3" cy="291.6" r="1.25"/><circle class="p" cx="229.3" cy="318.7" r="0.9"/><circle class="o" cx="229.3" cy="288.6" r="0.9"/><circle class="b" cx="223" cy="312.7" r="0.9"/><circle class="g" cx="223" cy="308.1" r="1.25"/><circle class="p" cx="223" cy="333.4" r="0.9"/><circle class="o" cx="223" cy="276" r="0.9"/><circle class="o" cx="223" cy="308.8" r="0.9"/><circle class="b" cx="232.7" cy="287.4" r="0.9"/><circle class="g" cx="232.7" cy="275.6" r="1.25"/><circle class="p" cx="232.7" cy="314" r="0.9"/><circle class="o" cx="232.7" cy="283.8" r="0.9"/><circle class="b" cx="185.5" cy="329.5" r="0.9"/><circle class="g" cx="185.5" cy="327.6" r="1.25"/><circle class="p" cx="185.5" cy="348.4" r="0.9"/><circle class="o" cx="185.5" cy="324.8" r="0.9"/><circle class="b" cx="184.7" cy="332.6" r="0.9"/><circle class="g" cx="184.7" cy="328.1" r="1.25"/><circle class="p" cx="184.7" cy="351" r="0.9"/><circle class="o" cx="184.7" cy="329.2" r="0.9"/><circle class="b" cx="186.6" cy="331.4" r="0.9"/><circle class="g" cx="186.6" cy="328.3" r="1.25"/><circle class="p" cx="186.6" cy="349.2" r="0.9"/><circle class="o" cx="186.6" cy="327.1" r="0.9"/><circle class="b" cx="222.7" cy="171.8" r="0.9"/><circle class="b" cx="222.7" cy="287" r="0.9"/><circle class="b" cx="222.7" cy="312.9" r="0.9"/><circle class="g" cx="222.7" cy="223.8" r="1.25"/><circle class="g" cx="222.7" cy="285.3" r="1.25"/><circle class="g" cx="222.7" cy="301.2" r="1.25"/><circle class="p" cx="222.7" cy="313.8" r="0.9"/><circle class="p" cx="222.7" cy="334.9" r="0.9"/><circle class="o" cx="222.7" cy="170.1" r="0.9"/><circle class="o" cx="222.7" cy="283.6" r="0.9"/><circle class="o" cx="222.7" cy="308.4" r="0.9"/><circle class="b" cx="208.2" cy="308.1" r="0.9"/><circle class="g" cx="208.2" cy="303.2" r="1.25"/><circle class="p" cx="208.2" cy="330.7" r="0.9"/><circle class="o" cx="208.2" cy="303.7" r="0.9"/><circle class="b" cx="289.7" cy="259.8" r="0.9"/><circle class="g" cx="289.7" cy="273" r="1.25"/><circle class="p" cx="289.7" cy="291" r="0.9"/><circle class="o" cx="289.7" cy="257" r="0.9"/><circle class="b" cx="187" cy="320.3" r="0.9"/><circle class="g" cx="187" cy="315.2" r="1.25"/><circle class="p" cx="187" cy="339.9" r="0.9"/><circle class="o" cx="187" cy="315.1" r="0.9"/><circle class="b" cx="219.5" cy="287.9" r="0.9"/><circle class="g" cx="219.5" cy="284.9" r="1.25"/><circle class="p" cx="219.5" cy="314.5" r="0.9"/><circle class="o" cx="219.5" cy="284" r="0.9"/><circle class="g" cx="193.5" cy="277" r="1.25"/><circle class="b" cx="204.9" cy="326.3" r="0.9"/><circle class="g" cx="204.9" cy="321.4" r="1.25"/><circle class="o" cx="204.9" cy="321.2" r="0.9"/><circle class="b" cx="244" cy="172" r="0.9"/><circle class="g" cx="244" cy="221" r="1.25"/><circle class="p" cx="244" cy="217.3" r="0.9"/><circle class="o" cx="244" cy="170.3" r="0.9"/><circle class="b" cx="215.3" cy="290.6" r="0.9"/><circle class="g" cx="215.3" cy="288.7" r="1.25"/><circle class="p" cx="215.3" cy="316.5" r="0.9"/><circle class="o" cx="215.3" cy="286.7" r="0.9"/><circle class="b" cx="180.8" cy="327.5" r="0.9"/><circle class="g" cx="180.8" cy="320.9" r="1.25"/><circle class="o" cx="180.8" cy="322.3" r="0.9"/><circle class="b" cx="226.9" cy="317.4" r="0.9"/><circle class="g" cx="226.9" cy="313.7" r="1.25"/><circle class="p" cx="226.9" cy="337.7" r="0.9"/><circle class="o" cx="226.9" cy="312.8" r="0.9"/><circle class="b" cx="183.4" cy="319.4" r="0.9"/><circle class="g" cx="183.4" cy="316" r="1.25"/><circle class="p" cx="183.4" cy="339.8" r="0.9"/><circle class="o" cx="183.4" cy="315.9" r="0.9"/><circle class="b" cx="172" cy="319.7" r="0.9"/><circle class="g" cx="172" cy="310" r="1.25"/><circle class="p" cx="172" cy="340" r="0.9"/><circle class="o" cx="172" cy="314.6" r="0.9"/><circle class="o" cx="227" cy="272" r="0.9"/><circle class="b" cx="236.5" cy="312" r="0.9"/><circle class="g" cx="236.5" cy="306" r="1.25"/><circle class="o" cx="236.5" cy="252.5" r="0.9"/><circle class="o" cx="236.5" cy="307.5" r="0.9"/><circle class="b" cx="190.6" cy="328.7" r="0.9"/><circle class="b" cx="190.6" cy="329.9" r="0.9"/><circle class="g" cx="190.6" cy="322.9" r="1.25"/><circle class="g" cx="190.6" cy="332.7" r="1.25"/><circle class="p" cx="190.6" cy="347.5" r="0.9"/><circle class="p" cx="190.6" cy="347.9" r="0.9"/><circle class="o" cx="190.6" cy="324" r="0.9"/><circle class="o" cx="190.6" cy="326.1" r="0.9"/><circle class="p" cx="242" cy="289.5" r="0.9"/><circle class="g" cx="237.5" cy="267.5" r="1.25"/><circle class="b" cx="204.6" cy="300" r="0.9"/><circle class="g" cx="204.6" cy="300.4" r="1.25"/><circle class="p" cx="204.6" cy="324" r="0.9"/><circle class="o" cx="204.6" cy="295.7" r="0.9"/><circle class="b" cx="231.4" cy="320.4" r="0.9"/><circle class="g" cx="231.4" cy="310.4" r="1.25"/><circle class="p" cx="231.4" cy="341.1" r="0.9"/><circle class="o" cx="231.4" cy="316.2" r="0.9"/><circle class="b" cx="192.5" cy="309.6" r="0.9"/><circle class="g" cx="192.5" cy="304.8" r="1.25"/><circle class="p" cx="192.5" cy="331.9" r="0.9"/><circle class="o" cx="192.5" cy="305.7" r="0.9"/><circle class="b" cx="157.3" cy="305" r="0.9"/><circle class="g" cx="157.3" cy="303.2" r="1.25"/><circle class="p" cx="157.3" cy="328.3" r="0.9"/><circle class="o" cx="157.3" cy="301" r="0.9"/><circle class="p" cx="243.3" cy="245.5" r="0.9"/><circle class="b" cx="231.8" cy="302.3" r="0.9"/><circle class="g" cx="231.8" cy="298.6" r="1.25"/><circle class="p" cx="231.8" cy="324.6" r="0.9"/><circle class="o" cx="231.8" cy="297.3" r="0.9"/><circle class="b" cx="252.3" cy="208.5" r="0.9"/><circle class="p" cx="252.3" cy="248" r="0.9"/><circle class="o" cx="252.3" cy="206.6" r="0.9"/><circle class="b" cx="234.7" cy="266" r="0.9"/><circle class="b" cx="234.7" cy="271.4" r="0.9"/><circle class="b" cx="234.7" cy="310.9" r="0.9"/><circle class="g" cx="234.7" cy="267.2" r="1.25"/><circle class="g" cx="234.7" cy="309.9" r="1.25"/><circle class="p" cx="234.7" cy="300.7" r="0.9"/><circle class="p" cx="234.7" cy="331.9" r="0.9"/><circle class="o" cx="234.7" cy="263.5" r="0.9"/><circle class="o" cx="234.7" cy="267.8" r="0.9"/><circle class="o" cx="234.7" cy="307.4" r="0.9"/><circle class="b" cx="206.1" cy="316" r="0.9"/><circle class="b" cx="206.1" cy="319.4" r="0.9"/><circle class="g" cx="206.1" cy="311.2" r="1.25"/><circle class="g" cx="206.1" cy="312.8" r="1.25"/><circle class="p" cx="206.1" cy="337.7" r="0.9"/><circle class="p" cx="206.1" cy="338.9" r="0.9"/><circle class="o" cx="206.1" cy="311.2" r="0.9"/><circle class="o" cx="206.1" cy="314.7" r="0.9"/><circle class="b" cx="196.7" cy="319.5" r="0.9"/><circle class="g" cx="196.7" cy="313.1" r="1.25"/><circle class="p" cx="196.7" cy="339.1" r="0.9"/><circle class="o" cx="196.7" cy="315.4" r="0.9"/><circle class="b" cx="188.8" cy="307.8" r="0.9"/><circle class="g" cx="188.8" cy="303.8" r="1.25"/><circle class="o" cx="188.8" cy="304" r="0.9"/><circle class="b" cx="232" cy="253" r="0.9"/><circle class="g" cx="232" cy="265.5" r="1.25"/><circle class="o" cx="232" cy="250.5" r="0.9"/><circle class="b" cx="229.8" cy="313.1" r="0.9"/><circle class="g" cx="229.8" cy="308.1" r="1.25"/><circle class="p" cx="229.8" cy="333" r="0.9"/><circle class="o" cx="229.8" cy="308.9" r="0.9"/><circle class="b" cx="180.7" cy="314.8" r="0.9"/><circle class="g" cx="180.7" cy="215.3" r="1.25"/><circle class="g" cx="180.7" cy="311.8" r="1.25"/><circle class="p" cx="180.7" cy="200" r="0.9"/><circle class="p" cx="180.7" cy="335.8" r="0.9"/><circle class="o" cx="180.7" cy="310.3" r="0.9"/><circle class="b" cx="261" cy="185" r="0.9"/><circle class="g" cx="261" cy="231.7" r="1.25"/><circle class="p" cx="261" cy="229.3" r="0.9"/><circle class="o" cx="261" cy="183.3" r="0.9"/><circle class="b" cx="220.4" cy="310.8" r="0.9"/><circle class="g" cx="220.4" cy="306.3" r="1.25"/><circle class="p" cx="220.4" cy="332.2" r="0.9"/><circle class="o" cx="220.4" cy="306.6" r="0.9"/><circle class="b" cx="221" cy="281" r="0.9"/><circle class="b" cx="200.3" cy="270" r="0.9"/><circle class="o" cx="200.3" cy="267" r="0.9"/><circle class="b" cx="235.6" cy="279.4" r="0.9"/><circle class="g" cx="235.6" cy="277" r="1.25"/><circle class="p" cx="235.6" cy="306" r="0.9"/><circle class="o" cx="235.6" cy="276.1" r="0.9"/><circle class="b" cx="199.4" cy="325.9" r="0.9"/><circle class="g" cx="199.4" cy="316.7" r="1.25"/><circle class="p" cx="199.4" cy="344.8" r="0.9"/><circle class="o" cx="199.4" cy="321.3" r="0.9"/><circle class="b" cx="215.6" cy="317.7" r="0.9"/><circle class="g" cx="215.6" cy="315.1" r="1.25"/><circle class="p" cx="215.6" cy="339" r="0.9"/><circle class="o" cx="215.6" cy="312.9" r="0.9"/><circle class="b" cx="247" cy="195.7" r="0.9"/><circle class="g" cx="247" cy="222" r="1.25"/><circle class="g" cx="247" cy="234.7" r="1.25"/><circle class="p" cx="247" cy="237.5" r="0.9"/><circle class="p" cx="247" cy="290.5" r="0.9"/><circle class="p" cx="247" cy="301" r="0.9"/><circle class="o" cx="247" cy="193.8" r="0.9"/><circle class="b" cx="196.2" cy="308.4" r="0.9"/><circle class="b" cx="196.2" cy="313.6" r="0.9"/><circle class="b" cx="196.2" cy="332.8" r="0.9"/><circle class="g" cx="196.2" cy="305.9" r="1.25"/><circle class="g" cx="196.2" cy="307.6" r="1.25"/><circle class="g" cx="196.2" cy="328.6" r="1.25"/><circle class="p" cx="196.2" cy="331.3" r="0.9"/><circle class="p" cx="196.2" cy="350.9" r="0.9"/><circle class="o" cx="196.2" cy="304.4" r="0.9"/><circle class="o" cx="196.2" cy="309.4" r="0.9"/><circle class="o" cx="196.2" cy="328.4" r="0.9"/><circle class="b" cx="231.7" cy="281.5" r="0.9"/><circle class="g" cx="231.7" cy="279.9" r="1.25"/><circle class="p" cx="231.7" cy="308.7" r="0.9"/><circle class="o" cx="231.7" cy="277.9" r="0.9"/><circle class="b" cx="178.6" cy="320.4" r="0.9"/><circle class="g" cx="178.6" cy="317.1" r="1.25"/><circle class="p" cx="178.6" cy="339.7" r="0.9"/><circle class="o" cx="178.6" cy="316.5" r="0.9"/><circle class="b" cx="198.8" cy="315.5" r="0.9"/><circle class="g" cx="198.8" cy="309.1" r="1.25"/><circle class="p" cx="198.8" cy="243" r="0.9"/><circle class="p" cx="198.8" cy="336.6" r="0.9"/><circle class="o" cx="198.8" cy="310.6" r="0.9"/><circle class="b" cx="175" cy="295.5" r="0.9"/><circle class="g" cx="175" cy="296.7" r="1.25"/><circle class="o" cx="175" cy="292.3" r="0.9"/><circle class="b" cx="245.9" cy="280.8" r="0.9"/><circle class="g" cx="245.9" cy="274.6" r="1.25"/><circle class="o" cx="245.9" cy="276.9" r="0.9"/><circle class="b" cx="240.3" cy="263.6" r="0.9"/><circle class="g" cx="240.3" cy="260.4" r="1.25"/><circle class="o" cx="240.3" cy="260.4" r="0.9"/><circle class="b" cx="188.2" cy="315.1" r="0.9"/><circle class="g" cx="188.2" cy="312.4" r="1.25"/><circle class="p" cx="188.2" cy="335.1" r="0.9"/><circle class="o" cx="188.2" cy="311.3" r="0.9"/><circle class="b" cx="215.2" cy="290.2" r="0.9"/><circle class="b" cx="215.2" cy="324.2" r="0.9"/><circle class="g" cx="215.2" cy="285.4" r="1.25"/><circle class="g" cx="215.2" cy="321.5" r="1.25"/><circle class="p" cx="215.2" cy="316.4" r="0.9"/><circle class="p" cx="215.2" cy="343.1" r="0.9"/><circle class="o" cx="215.2" cy="286.4" r="0.9"/><circle class="o" cx="215.2" cy="319.7" r="0.9"/><circle class="b" cx="223.2" cy="297.4" r="0.9"/><circle class="g" cx="223.2" cy="294.9" r="1.25"/><circle class="p" cx="223.2" cy="322.4" r="0.9"/><circle class="o" cx="223.2" cy="293.5" r="0.9"/><circle class="o" cx="257.5" cy="293" r="0.9"/><circle class="b" cx="206.9" cy="310.6" r="0.9"/><circle class="g" cx="206.9" cy="302.1" r="1.25"/><circle class="p" cx="206.9" cy="332.9" r="0.9"/><circle class="o" cx="206.9" cy="306.4" r="0.9"/><circle class="b" cx="207.9" cy="315.5" r="0.9"/><circle class="g" cx="207.9" cy="313.4" r="1.25"/><circle class="p" cx="207.9" cy="335.4" r="0.9"/><circle class="o" cx="207.9" cy="310.9" r="0.9"/><circle class="b" cx="171.5" cy="325.1" r="0.9"/><circle class="g" cx="171.5" cy="321.7" r="1.25"/><circle class="p" cx="171.5" cy="345.3" r="0.9"/><circle class="o" cx="171.5" cy="320.5" r="0.9"/><circle class="b" cx="219.8" cy="324.9" r="0.9"/><circle class="g" cx="219.8" cy="324.1" r="1.25"/><circle class="p" cx="219.8" cy="343.9" r="0.9"/><circle class="o" cx="219.8" cy="320.6" r="0.9"/><circle class="g" cx="280" cy="276.5" r="1.25"/><circle class="g" cx="235.5" cy="272" r="1.25"/><circle class="b" cx="231.1" cy="322.8" r="0.9"/><circle class="g" cx="231.1" cy="317.4" r="1.25"/><circle class="p" cx="231.1" cy="342.6" r="0.9"/><circle class="o" cx="231.1" cy="318.3" r="0.9"/><circle class="b" cx="246.5" cy="176.3" r="0.9"/><circle class="b" cx="246.5" cy="182.5" r="0.9"/><circle class="b" cx="246.5" cy="291.5" r="0.9"/><circle class="g" cx="246.5" cy="224.2" r="1.25"/><circle class="g" cx="246.5" cy="227.5" r="1.25"/><circle class="g" cx="246.5" cy="243.5" r="1.25"/><circle class="p" cx="246.5" cy="221" r="0.9"/><circle class="p" cx="246.5" cy="226.3" r="0.9"/><circle class="p" cx="246.5" cy="334.5" r="0.9"/><circle class="o" cx="246.5" cy="174.6" r="0.9"/><circle class="o" cx="246.5" cy="180.8" r="0.9"/><circle class="o" cx="246.5" cy="308" r="0.9"/><circle class="b" cx="264.7" cy="183.3" r="0.9"/><circle class="b" cx="264.7" cy="245.3" r="0.9"/><circle class="g" cx="264.7" cy="230.5" r="1.25"/><circle class="g" cx="264.7" cy="261" r="1.25"/><circle class="p" cx="264.7" cy="228" r="0.9"/><circle class="o" cx="264.7" cy="181.6" r="0.9"/><circle class="o" cx="264.7" cy="243" r="0.9"/><circle class="b" cx="214.2" cy="260.5" r="0.9"/><circle class="o" cx="214.2" cy="258" r="0.9"/><circle class="b" cx="245.5" cy="215.5" r="0.9"/><circle class="b" cx="245.5" cy="255" r="0.9"/><circle class="b" cx="245.5" cy="327.5" r="0.9"/><circle class="g" cx="245.5" cy="323.3" r="1.25"/><circle class="p" cx="245.5" cy="254" r="0.9"/><circle class="p" cx="245.5" cy="290" r="0.9"/><circle class="p" cx="245.5" cy="298.5" r="0.9"/><circle class="p" cx="245.5" cy="348" r="0.9"/><circle class="o" cx="245.5" cy="213.6" r="0.9"/><circle class="o" cx="245.5" cy="252.5" r="0.9"/><circle class="o" cx="245.5" cy="324.3" r="0.9"/><circle class="b" cx="240" cy="259.5" r="0.9"/><circle class="b" cx="240" cy="276.5" r="0.9"/><circle class="g" cx="240" cy="273" r="1.25"/><circle class="p" cx="240" cy="296" r="0.9"/><circle class="o" cx="240" cy="257" r="0.9"/><circle class="o" cx="240" cy="274" r="0.9"/><circle class="p" cx="249" cy="303" r="0.9"/><circle class="p" cx="249" cy="309.5" r="0.9"/><circle class="b" cx="170.9" cy="323.5" r="0.9"/><circle class="g" cx="170.9" cy="322.8" r="1.25"/><circle class="p" cx="170.9" cy="342.6" r="0.9"/><circle class="o" cx="170.9" cy="318.6" r="0.9"/><circle class="b" cx="256" cy="263.5" r="0.9"/><circle class="b" cx="256" cy="267.5" r="0.9"/><circle class="g" cx="256" cy="273" r="1.25"/><circle class="p" cx="256" cy="294.5" r="0.9"/><circle class="o" cx="256" cy="261" r="0.9"/><circle class="o" cx="256" cy="265" r="0.9"/><circle class="b" cx="232.5" cy="269.5" r="0.9"/><circle class="b" cx="232.5" cy="289" r="0.9"/><circle class="g" cx="232.5" cy="285.8" r="1.25"/><circle class="p" cx="232.5" cy="315.4" r="0.9"/><circle class="o" cx="232.5" cy="267" r="0.9"/><circle class="o" cx="232.5" cy="284.4" r="0.9"/><circle class="b" cx="218.3" cy="294.2" r="0.9"/><circle class="g" cx="218.3" cy="290.1" r="1.25"/><circle class="p" cx="218.3" cy="318.5" r="0.9"/><circle class="o" cx="218.3" cy="290.2" r="0.9"/><circle class="b" cx="172.7" cy="329.7" r="0.9"/><circle class="g" cx="172.7" cy="326.6" r="1.25"/><circle class="p" cx="172.7" cy="348.3" r="0.9"/><circle class="o" cx="172.7" cy="325.4" r="0.9"/><circle class="b" cx="209.8" cy="305.5" r="0.9"/><circle class="g" cx="209.8" cy="302.1" r="1.25"/><circle class="p" cx="209.8" cy="328.4" r="0.9"/><circle class="o" cx="209.8" cy="301.8" r="0.9"/><circle class="b" cx="226.3" cy="311.7" r="0.9"/><circle class="g" cx="226.3" cy="306.9" r="1.25"/><circle class="p" cx="226.3" cy="334.2" r="0.9"/><circle class="o" cx="226.3" cy="307.4" r="0.9"/><circle class="b" cx="182.4" cy="314.1" r="0.9"/><circle class="g" cx="182.4" cy="313" r="1.25"/><circle class="p" cx="182.4" cy="335.1" r="0.9"/><circle class="o" cx="182.4" cy="310.1" r="0.9"/><circle class="g" cx="200.5" cy="278.5" r="1.25"/><circle class="b" cx="223.5" cy="296.5" r="0.9"/><circle class="g" cx="223.5" cy="290.4" r="1.25"/><circle class="p" cx="223.5" cy="321.6" r="0.9"/><circle class="o" cx="223.5" cy="293.1" r="0.9"/><circle class="b" cx="245" cy="310" r="0.9"/><circle class="g" cx="245" cy="243" r="1.25"/><circle class="g" cx="245" cy="279" r="1.25"/><circle class="g" cx="245" cy="308" r="1.25"/><circle class="p" cx="245" cy="332.5" r="0.9"/><circle class="o" cx="245" cy="306.5" r="0.9"/><circle class="b" cx="241.7" cy="231.5" r="0.9"/><circle class="o" cx="241.7" cy="229.6" r="0.9"/><circle class="b" cx="210.1" cy="325.8" r="0.9"/><circle class="g" cx="210.1" cy="323" r="1.25"/><circle class="p" cx="210.1" cy="344.7" r="0.9"/><circle class="o" cx="210.1" cy="321.6" r="0.9"/><circle class="b" cx="211" cy="227.5" r="0.9"/><circle class="b" cx="211" cy="262.5" r="0.9"/><circle class="g" cx="211" cy="273" r="1.25"/><circle class="p" cx="211" cy="263.5" r="0.9"/><circle class="o" cx="211" cy="225.7" r="0.9"/><circle class="o" cx="211" cy="260" r="0.9"/><circle class="b" cx="170.2" cy="323.5" r="0.9"/><circle class="b" cx="170.2" cy="325.3" r="0.9"/><circle class="g" cx="170.2" cy="322.8" r="1.25"/><circle class="g" cx="170.2" cy="324.4" r="1.25"/><circle class="p" cx="170.2" cy="343" r="0.9"/><circle class="p" cx="170.2" cy="344.6" r="0.9"/><circle class="o" cx="170.2" cy="319" r="0.9"/><circle class="o" cx="170.2" cy="321" r="0.9"/><circle class="b" cx="189.2" cy="317.7" r="0.9"/><circle class="g" cx="189.2" cy="315.4" r="1.25"/><circle class="o" cx="189.2" cy="313.6" r="0.9"/><circle class="b" cx="191.7" cy="313.4" r="0.9"/><circle class="g" cx="191.7" cy="310.3" r="1.25"/><circle class="o" cx="191.7" cy="309.3" r="0.9"/><circle class="o" cx="231.3" cy="264.5" r="0.9"/><circle class="b" cx="188.3" cy="302" r="0.9"/><circle class="b" cx="188.3" cy="320.7" r="0.9"/><circle class="g" cx="188.3" cy="299.3" r="1.25"/><circle class="g" cx="188.3" cy="312" r="1.25"/><circle class="p" cx="188.3" cy="340.3" r="0.9"/><circle class="o" cx="188.3" cy="297.6" r="0.9"/><circle class="o" cx="188.3" cy="315.4" r="0.9"/><circle class="b" cx="259.7" cy="289" r="0.9"/><circle class="g" cx="259.7" cy="292" r="1.25"/><circle class="p" cx="259.7" cy="315.5" r="0.9"/><circle class="o" cx="259.7" cy="286" r="0.9"/><circle class="p" cx="258" cy="295.5" r="0.9"/><circle class="b" cx="239.2" cy="320" r="0.9"/><circle class="g" cx="239.2" cy="315.5" r="1.25"/><circle class="o" cx="239.2" cy="315.5" r="0.9"/><circle class="b" cx="203" cy="301.2" r="0.9"/><circle class="g" cx="203" cy="280" r="1.25"/><circle class="g" cx="203" cy="301.4" r="1.25"/><circle class="o" cx="203" cy="271.5" r="0.9"/><circle class="o" cx="203" cy="297.5" r="0.9"/><circle class="b" cx="250" cy="197" r="0.9"/><circle class="b" cx="250" cy="251.5" r="0.9"/><circle class="b" cx="250" cy="265" r="0.9"/><circle class="g" cx="250" cy="234.7" r="1.25"/><circle class="g" cx="250" cy="258.8" r="1.25"/><circle class="g" cx="250" cy="279.5" r="1.25"/><circle class="p" cx="250" cy="238" r="0.9"/><circle class="o" cx="250" cy="195.1" r="0.9"/><circle class="o" cx="250" cy="249" r="0.9"/><circle class="o" cx="250" cy="260.8" r="0.9"/><circle class="b" cx="190.3" cy="331" r="0.9"/><circle class="g" cx="190.3" cy="324.5" r="1.25"/><circle class="o" cx="190.3" cy="326.2" r="0.9"/><circle class="b" cx="219.4" cy="299.3" r="0.9"/><circle class="g" cx="219.4" cy="293.9" r="1.25"/><circle class="p" cx="219.4" cy="323.1" r="0.9"/><circle class="o" cx="219.4" cy="295.4" r="0.9"/><circle class="b" cx="182.7" cy="328.7" r="0.9"/><circle class="g" cx="182.7" cy="329" r="1.25"/><circle class="p" cx="182.7" cy="347.9" r="0.9"/><circle class="o" cx="182.7" cy="323.3" r="0.9"/><circle class="b" cx="176.5" cy="323" r="0.9"/><circle class="g" cx="176.5" cy="317.9" r="1.25"/><circle class="p" cx="176.5" cy="342.4" r="0.9"/><circle class="o" cx="176.5" cy="318.2" r="0.9"/><circle class="b" cx="196.6" cy="314.6" r="0.9"/><circle class="g" cx="196.6" cy="306.9" r="1.25"/><circle class="p" cx="196.6" cy="336" r="0.9"/><circle class="o" cx="196.6" cy="310.4" r="0.9"/><circle class="b" cx="189" cy="310.1" r="0.9"/><circle class="g" cx="189" cy="306.5" r="1.25"/><circle class="p" cx="189" cy="331.5" r="0.9"/><circle class="o" cx="189" cy="306.5" r="0.9"/><circle class="b" cx="187.2" cy="315.3" r="0.9"/><circle class="g" cx="187.2" cy="311.5" r="1.25"/><circle class="p" cx="187.2" cy="337.3" r="0.9"/><circle class="o" cx="187.2" cy="310.4" r="0.9"/><circle class="b" cx="224.4" cy="317.9" r="0.9"/><circle class="g" cx="224.4" cy="313.8" r="1.25"/><circle class="p" cx="224.4" cy="338" r="0.9"/><circle class="o" cx="224.4" cy="313.9" r="0.9"/><circle class="b" cx="240.4" cy="275.7" r="0.9"/><circle class="g" cx="240.4" cy="273.4" r="1.25"/><circle class="o" cx="240.4" cy="272.6" r="0.9"/><circle class="b" cx="186.2" cy="320.2" r="0.9"/><circle class="g" cx="186.2" cy="318" r="1.25"/><circle class="p" cx="186.2" cy="341.2" r="0.9"/><circle class="o" cx="186.2" cy="315.7" r="0.9"/><circle class="b" cx="199.7" cy="326.2" r="0.9"/><circle class="g" cx="199.7" cy="321.6" r="1.25"/><circle class="p" cx="199.7" cy="345.6" r="0.9"/><circle class="o" cx="199.7" cy="321.5" r="0.9"/><circle class="g" cx="276" cy="278.5" r="1.25"/><circle class="b" cx="197.4" cy="332.1" r="0.9"/><circle class="g" cx="197.4" cy="321" r="1.25"/><circle class="p" cx="197.4" cy="348.5" r="0.9"/><circle class="o" cx="197.4" cy="326.9" r="0.9"/><circle class="p" cx="242.3" cy="243" r="0.9"/><circle class="b" cx="191.3" cy="313.5" r="0.9"/><circle class="b" cx="191.3" cy="320.1" r="0.9"/><circle class="g" cx="191.3" cy="308.2" r="1.25"/><circle class="g" cx="191.3" cy="316.5" r="1.25"/><circle class="p" cx="191.3" cy="335" r="0.9"/><circle class="o" cx="191.3" cy="309.2" r="0.9"/><circle class="o" cx="191.3" cy="315.1" r="0.9"/><circle class="b" cx="171.6" cy="321.7" r="0.9"/><circle class="g" cx="171.6" cy="315.1" r="1.25"/><circle class="o" cx="171.6" cy="317.2" r="0.9"/><circle class="b" cx="212" cy="322.3" r="0.9"/><circle class="b" cx="212" cy="327.6" r="0.9"/><circle class="g" cx="212" cy="317.4" r="1.25"/><circle class="g" cx="212" cy="329" r="1.25"/><circle class="p" cx="212" cy="341.6" r="0.9"/><circle class="p" cx="212" cy="345.7" r="0.9"/><circle class="o" cx="212" cy="318.1" r="0.9"/><circle class="o" cx="212" cy="323.1" r="0.9"/><circle class="b" cx="215" cy="265" r="0.9"/><circle class="b" cx="215" cy="294.1" r="0.9"/><circle class="b" cx="215" cy="296.5" r="0.9"/><circle class="g" cx="215" cy="275" r="1.25"/><circle class="g" cx="215" cy="286.7" r="1.25"/><circle class="g" cx="215" cy="293.9" r="1.25"/><circle class="p" cx="215" cy="319.3" r="0.9"/><circle class="p" cx="215" cy="320.7" r="0.9"/><circle class="o" cx="215" cy="262.5" r="0.9"/><circle class="o" cx="215" cy="290.6" r="0.9"/><circle class="o" cx="215" cy="292.3" r="0.9"/><circle class="b" cx="222.8" cy="287" r="0.9"/><circle class="g" cx="222.8" cy="282.5" r="1.25"/><circle class="p" cx="222.8" cy="217.6" r="0.9"/><circle class="p" cx="222.8" cy="313" r="0.9"/><circle class="o" cx="222.8" cy="282.8" r="0.9"/><circle class="b" cx="175.2" cy="321.9" r="0.9"/><circle class="g" cx="175.2" cy="318.6" r="1.25"/><circle class="p" cx="175.2" cy="340.4" r="0.9"/><circle class="o" cx="175.2" cy="317.4" r="0.9"/><circle class="b" cx="248" cy="183.5" r="0.9"/><circle class="b" cx="248" cy="190.8" r="0.9"/><circle class="b" cx="248" cy="278.3" r="0.9"/><circle class="g" cx="248" cy="223" r="1.25"/><circle class="g" cx="248" cy="229.3" r="1.25"/><circle class="g" cx="248" cy="270.1" r="1.25"/><circle class="g" cx="248" cy="282.5" r="1.25"/><circle class="g" cx="248" cy="283.5" r="1.25"/><circle class="p" cx="248" cy="227.3" r="0.9"/><circle class="p" cx="248" cy="232.5" r="0.9"/><circle class="o" cx="248" cy="181.8" r="0.9"/><circle class="o" cx="248" cy="188.9" r="0.9"/><circle class="o" cx="248" cy="275.2" r="0.9"/><circle class="o" cx="248" cy="289" r="0.9"/><circle class="b" cx="198" cy="234.7" r="0.9"/><circle class="o" cx="198" cy="232.9" r="0.9"/><circle class="b" cx="254.5" cy="270.5" r="0.9"/><circle class="p" cx="254.5" cy="319.5" r="0.9"/><circle class="o" cx="254.5" cy="268" r="0.9"/><circle class="b" cx="232.9" cy="279.9" r="0.9"/><circle class="g" cx="232.9" cy="273.5" r="1.25"/><circle class="p" cx="232.9" cy="306.9" r="0.9"/><circle class="o" cx="232.9" cy="276.3" r="0.9"/><circle class="b" cx="164.2" cy="328.1" r="0.9"/><circle class="b" cx="164.2" cy="328.8" r="0.9"/><circle class="g" cx="164.2" cy="321" r="1.25"/><circle class="g" cx="164.2" cy="325.1" r="1.25"/><circle class="p" cx="164.2" cy="346.9" r="0.9"/><circle class="p" cx="164.2" cy="347.5" r="0.9"/><circle class="o" cx="164.2" cy="322.9" r="0.9"/><circle class="o" cx="164.2" cy="324.3" r="0.9"/><circle class="b" cx="170" cy="326.3" r="0.9"/><circle class="g" cx="170" cy="319.6" r="1.25"/><circle class="p" cx="170" cy="345" r="0.9"/><circle class="o" cx="170" cy="322.3" r="0.9"/><circle class="b" cx="211.9" cy="310.9" r="0.9"/><circle class="g" cx="211.9" cy="304.9" r="1.25"/><circle class="p" cx="211.9" cy="332.3" r="0.9"/><circle class="o" cx="211.9" cy="306.2" r="0.9"/><circle class="b" cx="198.2" cy="328.8" r="0.9"/><circle class="g" cx="198.2" cy="326.7" r="1.25"/><circle class="o" cx="198.2" cy="324.3" r="0.9"/><circle class="b" cx="188.6" cy="323.3" r="0.9"/><circle class="g" cx="188.6" cy="320.3" r="1.25"/><circle class="p" cx="188.6" cy="341.8" r="0.9"/><circle class="o" cx="188.6" cy="319.1" r="0.9"/><circle class="b" cx="254.8" cy="325.3" r="0.9"/><circle class="b" cx="174.8" cy="326.3" r="0.9"/><circle class="g" cx="174.8" cy="320" r="1.25"/><circle class="p" cx="174.8" cy="346.3" r="0.9"/><circle class="o" cx="174.8" cy="320.5" r="0.9"/><circle class="b" cx="224.7" cy="290.8" r="0.9"/><circle class="g" cx="224.7" cy="285" r="1.25"/><circle class="p" cx="224.7" cy="316.6" r="0.9"/><circle class="o" cx="224.7" cy="287.1" r="0.9"/><circle class="b" cx="213.4" cy="291.9" r="0.9"/><circle class="b" cx="213.4" cy="302.4" r="0.9"/><circle class="g" cx="213.4" cy="288.7" r="1.25"/><circle class="g" cx="213.4" cy="300.3" r="1.25"/><circle class="p" cx="213.4" cy="316.5" r="0.9"/><circle class="p" cx="213.4" cy="326.7" r="0.9"/><circle class="o" cx="213.4" cy="289.1" r="0.9"/><circle class="o" cx="213.4" cy="298.6" r="0.9"/><circle class="b" cx="170.8" cy="328.4" r="0.9"/><circle class="b" cx="170.8" cy="329.4" r="0.9"/><circle class="g" cx="170.8" cy="321.4" r="1.25"/><circle class="g" cx="170.8" cy="323" r="1.25"/><circle class="p" cx="170.8" cy="346.9" r="0.9"/><circle class="p" cx="170.8" cy="348.3" r="0.9"/><circle class="o" cx="170.8" cy="323.4" r="0.9"/><circle class="o" cx="170.8" cy="325.2" r="0.9"/><circle class="b" cx="224.9" cy="317.5" r="0.9"/><circle class="g" cx="224.9" cy="311.3" r="1.25"/><circle class="p" cx="224.9" cy="339.1" r="0.9"/><circle class="o" cx="224.9" cy="313.2" r="0.9"/><circle class="p" cx="257" cy="281" r="0.9"/><circle class="p" cx="257" cy="321" r="0.9"/><circle class="b" cx="250.1" cy="276.9" r="0.9"/><circle class="g" cx="250.1" cy="273.2" r="1.25"/><circle class="o" cx="250.1" cy="273.2" r="0.9"/><circle class="b" cx="217.8" cy="292.1" r="0.9"/><circle class="g" cx="217.8" cy="288.2" r="1.25"/><circle class="p" cx="217.8" cy="317.7" r="0.9"/><circle class="o" cx="217.8" cy="289" r="0.9"/><circle class="b" cx="169.5" cy="298" r="0.9"/><circle class="g" cx="169.5" cy="298.5" r="1.25"/><circle class="o" cx="169.5" cy="294.7" r="0.9"/><circle class="p" cx="277.5" cy="297.5" r="0.9"/><circle class="b" cx="173.4" cy="325.5" r="0.9"/><circle class="g" cx="173.4" cy="323.2" r="1.25"/><circle class="p" cx="173.4" cy="345.7" r="0.9"/><circle class="o" cx="173.4" cy="321.4" r="0.9"/><circle class="b" cx="241.6" cy="270.7" r="0.9"/><circle class="b" cx="241.6" cy="280.8" r="0.9"/><circle class="g" cx="241.6" cy="265.2" r="1.25"/><circle class="g" cx="241.6" cy="278.6" r="1.25"/><circle class="o" cx="241.6" cy="267.7" r="0.9"/><circle class="o" cx="241.6" cy="276.4" r="0.9"/><circle class="b" cx="248.5" cy="242.5" r="0.9"/><circle class="b" cx="248.5" cy="273.5" r="0.9"/><circle class="b" cx="248.5" cy="276" r="0.9"/><circle class="g" cx="248.5" cy="260.5" r="1.25"/><circle class="p" cx="248.5" cy="280" r="0.9"/><circle class="o" cx="248.5" cy="240" r="0.9"/><circle class="o" cx="248.5" cy="271" r="0.9"/><circle class="o" cx="248.5" cy="273.5" r="0.9"/><circle class="b" cx="235" cy="268.1" r="0.9"/><circle class="b" cx="235" cy="275.1" r="0.9"/><circle class="b" cx="235" cy="286.1" r="0.9"/><circle class="g" cx="235" cy="262.6" r="1.25"/><circle class="g" cx="235" cy="273.9" r="1.25"/><circle class="g" cx="235" cy="279" r="1.25"/><circle class="p" cx="235" cy="296.8" r="0.9"/><circle class="p" cx="235" cy="303.3" r="0.9"/><circle class="p" cx="235" cy="311.2" r="0.9"/><circle class="o" cx="235" cy="264.5" r="0.9"/><circle class="o" cx="235" cy="270.5" r="0.9"/><circle class="o" cx="235" cy="282.2" r="0.9"/><circle class="b" cx="200.8" cy="317.4" r="0.9"/><circle class="g" cx="200.8" cy="309.4" r="1.25"/><circle class="p" cx="200.8" cy="338.5" r="0.9"/><circle class="o" cx="200.8" cy="312.5" r="0.9"/><circle class="b" cx="185.2" cy="323.5" r="0.9"/><circle class="g" cx="185.2" cy="315.8" r="1.25"/><circle class="p" cx="185.2" cy="343.6" r="0.9"/><circle class="o" cx="185.2" cy="319.3" r="0.9"/><circle class="b" cx="181.7" cy="327.7" r="0.9"/><circle class="g" cx="181.7" cy="323" r="1.25"/><circle class="p" cx="181.7" cy="346.7" r="0.9"/><circle class="o" cx="181.7" cy="323.4" r="0.9"/><circle class="b" cx="227.2" cy="314.8" r="0.9"/><circle class="g" cx="227.2" cy="312.2" r="1.25"/><circle class="p" cx="227.2" cy="336.5" r="0.9"/><circle class="o" cx="227.2" cy="311.7" r="0.9"/><circle class="b" cx="276.3" cy="269.5" r="0.9"/><circle class="o" cx="276.3" cy="266.7" r="0.9"/><circle class="g" cx="270" cy="277" r="1.25"/><circle class="b" cx="178.8" cy="322.4" r="0.9"/><circle class="b" cx="178.8" cy="324.5" r="0.9"/><circle class="g" cx="178.8" cy="309.5" r="1.25"/><circle class="g" cx="178.8" cy="322.2" r="1.25"/><circle class="p" cx="178.8" cy="342.1" r="0.9"/><circle class="p" cx="178.8" cy="343.7" r="0.9"/><circle class="o" cx="178.8" cy="319.2" r="0.9"/><circle class="o" cx="178.8" cy="320.2" r="0.9"/><circle class="g" cx="234" cy="283.5" r="1.25"/><circle class="b" cx="273.3" cy="268.5" r="0.9"/><circle class="o" cx="273.3" cy="265.8" r="0.9"/><circle class="g" cx="253.7" cy="316" r="1.25"/><circle class="o" cx="253.7" cy="316" r="0.9"/><circle class="b" cx="194" cy="269.5" r="0.9"/><circle class="b" cx="194" cy="282" r="0.9"/><circle class="o" cx="194" cy="266.5" r="0.9"/><circle class="o" cx="194" cy="278.5" r="0.9"/><circle class="b" cx="254" cy="188.3" r="0.9"/><circle class="g" cx="254" cy="233" r="1.25"/><circle class="p" cx="254" cy="231.8" r="0.9"/><circle class="o" cx="254" cy="186.6" r="0.9"/><circle class="b" cx="179.6" cy="331" r="0.9"/><circle class="g" cx="179.6" cy="324.3" r="1.25"/><circle class="p" cx="179.6" cy="349.3" r="0.9"/><circle class="o" cx="179.6" cy="325.8" r="0.9"/><circle class="b" cx="173.3" cy="326.3" r="0.9"/><circle class="b" cx="173.3" cy="326.6" r="0.9"/><circle class="g" cx="173.3" cy="322.8" r="1.25"/><circle class="g" cx="173.3" cy="326.6" r="1.25"/><circle class="p" cx="173.3" cy="344.4" r="0.9"/><circle class="p" cx="173.3" cy="344.8" r="0.9"/><circle class="o" cx="173.3" cy="320.8" r="0.9"/><circle class="o" cx="173.3" cy="321.7" r="0.9"/><circle class="b" cx="206.8" cy="320.1" r="0.9"/><circle class="g" cx="206.8" cy="319.1" r="1.25"/><circle class="p" cx="206.8" cy="340.3" r="0.9"/><circle class="o" cx="206.8" cy="316.7" r="0.9"/><circle class="b" cx="229.1" cy="312.9" r="0.9"/><circle class="g" cx="229.1" cy="307.7" r="1.25"/><circle class="p" cx="229.1" cy="334.4" r="0.9"/><circle class="o" cx="229.1" cy="307.6" r="0.9"/><circle class="b" cx="138.3" cy="333" r="0.9"/><circle class="g" cx="138.3" cy="326" r="1.25"/><circle class="p" cx="138.3" cy="351.3" r="0.9"/><circle class="o" cx="138.3" cy="328.2" r="0.9"/><circle class="b" cx="228.8" cy="295.3" r="0.9"/><circle class="g" cx="228.8" cy="282.7" r="1.25"/><circle class="p" cx="228.8" cy="319.6" r="0.9"/><circle class="o" cx="228.8" cy="290.2" r="0.9"/><circle class="b" cx="222.2" cy="314.9" r="0.9"/><circle class="g" cx="222.2" cy="308.4" r="1.25"/><circle class="p" cx="222.2" cy="336.1" r="0.9"/><circle class="o" cx="222.2" cy="310.7" r="0.9"/><circle class="b" cx="244.3" cy="212.3" r="0.9"/><circle class="p" cx="244.3" cy="251" r="0.9"/><circle class="o" cx="244.3" cy="210.4" r="0.9"/><circle class="b" cx="216.1" cy="312.4" r="0.9"/><circle class="g" cx="216.1" cy="311.1" r="1.25"/><circle class="p" cx="216.1" cy="334.3" r="0.9"/><circle class="o" cx="216.1" cy="308" r="0.9"/><circle class="b" cx="212.7" cy="300.9" r="0.9"/><circle class="b" cx="212.7" cy="312.6" r="0.9"/><circle class="g" cx="212.7" cy="298.7" r="1.25"/><circle class="g" cx="212.7" cy="307.3" r="1.25"/><circle class="p" cx="212.7" cy="324.4" r="0.9"/><circle class="p" cx="212.7" cy="334.7" r="0.9"/><circle class="o" cx="212.7" cy="297.4" r="0.9"/><circle class="o" cx="212.7" cy="308.8" r="0.9"/><circle class="b" cx="201" cy="318.6" r="0.9"/><circle class="g" cx="201" cy="310.5" r="1.25"/><circle class="p" cx="201" cy="339.2" r="0.9"/><circle class="o" cx="201" cy="282" r="0.9"/><circle class="o" cx="201" cy="313.6" r="0.9"/><circle class="b" cx="263" cy="178.3" r="0.9"/><circle class="g" cx="263" cy="226.7" r="1.25"/><circle class="p" cx="263" cy="223.3" r="0.9"/><circle class="o" cx="263" cy="176.6" r="0.9"/><circle class="b" cx="182.8" cy="321.4" r="0.9"/><circle class="g" cx="182.8" cy="316.2" r="1.25"/><circle class="p" cx="182.8" cy="341.5" r="0.9"/><circle class="o" cx="182.8" cy="316.3" r="0.9"/><circle class="b" cx="197.7" cy="304.2" r="0.9"/><circle class="g" cx="197.7" cy="298.9" r="1.25"/><circle class="p" cx="197.7" cy="327.6" r="0.9"/><circle class="o" cx="197.7" cy="300.2" r="0.9"/><circle class="b" cx="253.8" cy="279.8" r="0.9"/><circle class="g" cx="253.8" cy="278.4" r="1.25"/><circle class="o" cx="253.8" cy="276" r="0.9"/><circle class="b" cx="192.1" cy="325.8" r="0.9"/><circle class="g" cx="192.1" cy="317.3" r="1.25"/><circle class="p" cx="192.1" cy="345.1" r="0.9"/><circle class="o" cx="192.1" cy="321.5" r="0.9"/><circle class="b" cx="233.4" cy="285.8" r="0.9"/><circle class="g" cx="233.4" cy="279.2" r="1.25"/><circle class="p" cx="233.4" cy="313.5" r="0.9"/><circle class="o" cx="233.4" cy="281.9" r="0.9"/><circle class="b" cx="209.1" cy="308.7" r="0.9"/><circle class="g" cx="209.1" cy="302.8" r="1.25"/><circle class="p" cx="209.1" cy="329.7" r="0.9"/><circle class="o" cx="209.1" cy="304" r="0.9"/><circle class="b" cx="210" cy="307.6" r="0.9"/><circle class="g" cx="210" cy="305.3" r="1.25"/><circle class="p" cx="210" cy="330.2" r="0.9"/><circle class="o" cx="210" cy="279.5" r="0.9"/><circle class="o" cx="210" cy="302.5" r="0.9"/><circle class="b" cx="258.5" cy="265" r="0.9"/><circle class="g" cx="258.5" cy="274.5" r="1.25"/><circle class="o" cx="258.5" cy="262.5" r="0.9"/><circle class="b" cx="191.5" cy="269.5" r="0.9"/><circle class="g" cx="191.5" cy="277.5" r="1.25"/><circle class="o" cx="191.5" cy="267" r="0.9"/><circle class="b" cx="200" cy="168" r="0.9"/><circle class="b" cx="200" cy="267.5" r="0.9"/><circle class="b" cx="200" cy="300.4" r="0.9"/><circle class="b" cx="200" cy="314.1" r="0.9"/><circle class="b" cx="200" cy="319.8" r="0.9"/><circle class="g" cx="200" cy="235.5" r="1.25"/><circle class="g" cx="200" cy="276" r="1.25"/><circle class="g" cx="200" cy="296.8" r="1.25"/><circle class="g" cx="200" cy="313.5" r="1.25"/><circle class="g" cx="200" cy="316.7" r="1.25"/><circle class="p" cx="200" cy="220.3" r="0.9"/><circle class="p" cx="200" cy="324.2" r="0.9"/><circle class="p" cx="200" cy="334.7" r="0.9"/><circle class="p" cx="200" cy="338.9" r="0.9"/><circle class="o" cx="200" cy="166.3" r="0.9"/><circle class="o" cx="200" cy="264.5" r="0.9"/><circle class="o" cx="200" cy="296.3" r="0.9"/><circle class="o" cx="200" cy="310.1" r="0.9"/><circle class="o" cx="200" cy="316.5" r="0.9"/><circle class="b" cx="205.5" cy="214.7" r="0.9"/><circle class="b" cx="205.5" cy="324.5" r="0.9"/><circle class="g" cx="205.5" cy="322.8" r="1.25"/><circle class="p" cx="205.5" cy="253" r="0.9"/><circle class="p" cx="205.5" cy="344.9" r="0.9"/><circle class="o" cx="205.5" cy="212.9" r="0.9"/><circle class="o" cx="205.5" cy="320.2" r="0.9"/><circle class="b" cx="215.9" cy="318" r="0.9"/><circle class="g" cx="215.9" cy="309" r="1.25"/><circle class="p" cx="215.9" cy="338.9" r="0.9"/><circle class="o" cx="215.9" cy="314.1" r="0.9"/><circle class="b" cx="225" cy="292.8" r="0.9"/><circle class="b" cx="225" cy="314.7" r="0.9"/><circle class="g" cx="225" cy="286.8" r="1.25"/><circle class="g" cx="225" cy="311.9" r="1.25"/><circle class="p" cx="225" cy="318.9" r="0.9"/><circle class="p" cx="225" cy="334.3" r="0.9"/><circle class="o" cx="225" cy="273" r="0.9"/><circle class="o" cx="225" cy="288.6" r="0.9"/><circle class="o" cx="225" cy="310.6" r="0.9"/><circle class="g" cx="250.7" cy="266.3" r="1.25"/><circle class="g" cx="250.7" cy="292" r="1.25"/><circle class="b" cx="172.5" cy="268.3" r="0.9"/><circle class="b" cx="172.5" cy="288.5" r="0.9"/><circle class="g" cx="172.5" cy="279.8" r="1.25"/><circle class="g" cx="172.5" cy="293" r="1.25"/><circle class="p" cx="172.5" cy="297.8" r="0.9"/><circle class="p" cx="172.5" cy="314.3" r="0.9"/><circle class="o" cx="172.5" cy="265.5" r="0.9"/><circle class="o" cx="172.5" cy="285" r="0.9"/><circle class="b" cx="167.3" cy="327.9" r="0.9"/><circle class="g" cx="167.3" cy="320.9" r="1.25"/><circle class="p" cx="167.3" cy="346.6" r="0.9"/><circle class="o" cx="167.3" cy="323.4" r="0.9"/><circle class="b" cx="212.6" cy="302.8" r="0.9"/><circle class="g" cx="212.6" cy="293" r="1.25"/><circle class="p" cx="212.6" cy="326.6" r="0.9"/><circle class="o" cx="212.6" cy="298.9" r="0.9"/><circle class="b" cx="231.2" cy="290.3" r="0.9"/><circle class="g" cx="231.2" cy="290.4" r="1.25"/><circle class="p" cx="231.2" cy="316.5" r="0.9"/><circle class="o" cx="231.2" cy="286.2" r="0.9"/><circle class="b" cx="217.1" cy="315" r="0.9"/><circle class="g" cx="217.1" cy="307.2" r="1.25"/><circle class="p" cx="217.1" cy="336" r="0.9"/><circle class="o" cx="217.1" cy="311.1" r="0.9"/><circle class="b" cx="253.5" cy="198.7" r="0.9"/><circle class="g" cx="253.5" cy="235" r="1.25"/><circle class="g" cx="253.5" cy="281" r="1.25"/><circle class="p" cx="253.5" cy="238.5" r="0.9"/><circle class="p" cx="253.5" cy="283.5" r="0.9"/><circle class="p" cx="253.5" cy="340.5" r="0.9"/><circle class="o" cx="253.5" cy="196.8" r="0.9"/><circle class="b" cx="164.9" cy="326.1" r="0.9"/><circle class="g" cx="164.9" cy="318.5" r="1.25"/><circle class="p" cx="164.9" cy="344.6" r="0.9"/><circle class="o" cx="164.9" cy="322.4" r="0.9"/><circle class="b" cx="188.9" cy="319.7" r="0.9"/><circle class="g" cx="188.9" cy="316.8" r="1.25"/><circle class="o" cx="188.9" cy="314.8" r="0.9"/><circle class="b" cx="172.3" cy="323.4" r="0.9"/><circle class="g" cx="172.3" cy="318.6" r="1.25"/><circle class="p" cx="172.3" cy="343.3" r="0.9"/><circle class="o" cx="172.3" cy="319.1" r="0.9"/><circle class="b" cx="184.3" cy="317.8" r="0.9"/><circle class="g" cx="184.3" cy="317.8" r="1.25"/><circle class="p" cx="184.3" cy="338" r="0.9"/><circle class="o" cx="184.3" cy="314.2" r="0.9"/><circle class="b" cx="234.6" cy="296.7" r="0.9"/><circle class="b" cx="234.6" cy="308.7" r="0.9"/><circle class="g" cx="234.6" cy="293.2" r="1.25"/><circle class="g" cx="234.6" cy="302.8" r="1.25"/><circle class="p" cx="234.6" cy="321.3" r="0.9"/><circle class="p" cx="234.6" cy="330.1" r="0.9"/><circle class="o" cx="234.6" cy="291.9" r="0.9"/><circle class="o" cx="234.6" cy="304.8" r="0.9"/><circle class="b" cx="199.3" cy="309.8" r="0.9"/><circle class="b" cx="199.3" cy="327.3" r="0.9"/><circle class="g" cx="199.3" cy="309.9" r="1.25"/><circle class="g" cx="199.3" cy="326.3" r="1.25"/><circle class="p" cx="199.3" cy="332.3" r="0.9"/><circle class="p" cx="199.3" cy="347.1" r="0.9"/><circle class="o" cx="199.3" cy="306.5" r="0.9"/><circle class="o" cx="199.3" cy="322.6" r="0.9"/><circle class="b" cx="249.5" cy="248" r="0.9"/><circle class="b" cx="249.5" cy="281" r="0.9"/><circle class="g" cx="249.5" cy="223.5" r="1.25"/><circle class="p" cx="249.5" cy="265.5" r="0.9"/><circle class="o" cx="249.5" cy="245.5" r="0.9"/><circle class="o" cx="249.5" cy="278.5" r="0.9"/><circle class="b" cx="211.2" cy="296.2" r="0.9"/><circle class="g" cx="211.2" cy="250.5" r="1.25"/><circle class="g" cx="211.2" cy="296.6" r="1.25"/><circle class="p" cx="211.2" cy="321.7" r="0.9"/><circle class="o" cx="211.2" cy="292.8" r="0.9"/><circle class="b" cx="205.1" cy="320.2" r="0.9"/><circle class="g" cx="205.1" cy="311.2" r="1.25"/><circle class="p" cx="205.1" cy="339.5" r="0.9"/><circle class="o" cx="205.1" cy="315.6" r="0.9"/><circle class="b" cx="170.7" cy="325.8" r="0.9"/><circle class="g" cx="170.7" cy="319.3" r="1.25"/><circle class="p" cx="170.7" cy="343.9" r="0.9"/><circle class="o" cx="170.7" cy="320.3" r="0.9"/><circle class="g" cx="268" cy="278.5" r="1.25"/><circle class="b" cx="184.6" cy="317.3" r="0.9"/><circle class="g" cx="184.6" cy="311" r="1.25"/><circle class="p" cx="184.6" cy="337.9" r="0.9"/><circle class="o" cx="184.6" cy="313.4" r="0.9"/><circle class="g" cx="166.5" cy="313.3" r="1.25"/><circle class="p" cx="166.5" cy="339" r="0.9"/><circle class="o" cx="166.5" cy="313.5" r="0.9"/><circle class="b" cx="174.2" cy="319" r="0.9"/><circle class="b" cx="174.2" cy="323.9" r="0.9"/><circle class="g" cx="174.2" cy="318.1" r="1.25"/><circle class="g" cx="174.2" cy="322.7" r="1.25"/><circle class="p" cx="174.2" cy="339.3" r="0.9"/><circle class="p" cx="174.2" cy="342.8" r="0.9"/><circle class="o" cx="174.2" cy="314.7" r="0.9"/><circle class="o" cx="174.2" cy="319.1" r="0.9"/><circle class="b" cx="198.4" cy="317.6" r="0.9"/><circle class="g" cx="198.4" cy="313.5" r="1.25"/><circle class="p" cx="198.4" cy="338.3" r="0.9"/><circle class="o" cx="198.4" cy="313.4" r="0.9"/><circle class="b" cx="212.3" cy="314.3" r="0.9"/><circle class="g" cx="212.3" cy="309" r="1.25"/><circle class="p" cx="212.3" cy="335.1" r="0.9"/><circle class="o" cx="212.3" cy="309.5" r="0.9"/><circle class="b" cx="240.5" cy="172.2" r="0.9"/><circle class="b" cx="240.5" cy="248" r="0.9"/><circle class="b" cx="240.5" cy="277.5" r="0.9"/><circle class="g" cx="240.5" cy="223" r="1.25"/><circle class="g" cx="240.5" cy="275.5" r="1.25"/><circle class="p" cx="240.5" cy="217.7" r="0.9"/><circle class="p" cx="240.5" cy="305.5" r="0.9"/><circle class="o" cx="240.5" cy="170.5" r="0.9"/><circle class="o" cx="240.5" cy="245.5" r="0.9"/><circle class="o" cx="240.5" cy="274.4" r="0.9"/><circle class="b" cx="181.6" cy="317.7" r="0.9"/><circle class="g" cx="181.6" cy="313" r="1.25"/><circle class="p" cx="181.6" cy="339.9" r="0.9"/><circle class="o" cx="181.6" cy="313" r="0.9"/><circle class="b" cx="197.8" cy="260.5" r="0.9"/><circle class="g" cx="197.8" cy="255.5" r="1.25"/><circle class="p" cx="197.8" cy="270" r="0.9"/><circle class="o" cx="197.8" cy="258" r="0.9"/><circle class="b" cx="239.7" cy="276.1" r="0.9"/><circle class="g" cx="239.7" cy="272.9" r="1.25"/><circle class="o" cx="239.7" cy="272.6" r="0.9"/><circle class="b" cx="205.3" cy="308.3" r="0.9"/><circle class="g" cx="205.3" cy="303.9" r="1.25"/><circle class="p" cx="205.3" cy="330.9" r="0.9"/><circle class="o" cx="205.3" cy="303.7" r="0.9"/><circle class="b" cx="250.5" cy="288.5" r="0.9"/><circle class="p" cx="250.5" cy="315" r="0.9"/><circle class="b" cx="218" cy="283.5" r="0.9"/><circle class="b" cx="218" cy="306.5" r="0.9"/><circle class="b" cx="218" cy="312.1" r="0.9"/><circle class="g" cx="218" cy="303.6" r="1.25"/><circle class="g" cx="218" cy="312.3" r="1.25"/><circle class="p" cx="218" cy="329.5" r="0.9"/><circle class="p" cx="218" cy="333.3" r="0.9"/><circle class="o" cx="218" cy="302" r="0.9"/><circle class="o" cx="218" cy="307.9" r="0.9"/><circle class="b" cx="208.1" cy="308.4" r="0.9"/><circle class="g" cx="208.1" cy="312.6" r="1.25"/><circle class="p" cx="208.1" cy="330.1" r="0.9"/><circle class="o" cx="208.1" cy="304.5" r="0.9"/><circle class="b" cx="239.3" cy="278.4" r="0.9"/><circle class="g" cx="239.3" cy="278.9" r="1.25"/><circle class="o" cx="239.3" cy="274.8" r="0.9"/><circle class="b" cx="209.4" cy="298.6" r="0.9"/><circle class="b" cx="209.4" cy="300.1" r="0.9"/><circle class="g" cx="209.4" cy="295.7" r="1.25"/><circle class="g" cx="209.4" cy="295.9" r="1.25"/><circle class="p" cx="209.4" cy="323.4" r="0.9"/><circle class="p" cx="209.4" cy="323.8" r="0.9"/><circle class="o" cx="209.4" cy="294.3" r="0.9"/><circle class="o" cx="209.4" cy="295.9" r="0.9"/><circle class="p" cx="254.3" cy="300" r="0.9"/><circle class="g" cx="255.5" cy="277.5" r="1.25"/><circle class="b" cx="257.7" cy="219.7" r="0.9"/><circle class="g" cx="257.7" cy="212.5" r="1.25"/><circle class="g" cx="257.7" cy="221" r="1.25"/><circle class="p" cx="257.7" cy="257" r="0.9"/><circle class="o" cx="257.7" cy="217.8" r="0.9"/><circle class="b" cx="197.3" cy="301.2" r="0.9"/><circle class="b" cx="197.3" cy="320.4" r="0.9"/><circle class="g" cx="197.3" cy="301.7" r="1.25"/><circle class="g" cx="197.3" cy="315.2" r="1.25"/><circle class="p" cx="197.3" cy="325.6" r="0.9"/><circle class="p" cx="197.3" cy="340.7" r="0.9"/><circle class="o" cx="197.3" cy="296.3" r="0.9"/><circle class="o" cx="197.3" cy="314.8" r="0.9"/><circle class="b" cx="210.5" cy="310.2" r="0.9"/><circle class="g" cx="210.5" cy="306.1" r="1.25"/><circle class="p" cx="210.5" cy="332.7" r="0.9"/><circle class="o" cx="210.5" cy="306.2" r="0.9"/><circle class="b" cx="208.4" cy="307.7" r="0.9"/><circle class="b" cx="208.4" cy="315.9" r="0.9"/><circle class="g" cx="208.4" cy="301.2" r="1.25"/><circle class="g" cx="208.4" cy="312.8" r="1.25"/><circle class="p" cx="208.4" cy="328.7" r="0.9"/><circle class="p" cx="208.4" cy="336.4" r="0.9"/><circle class="o" cx="208.4" cy="303.8" r="0.9"/><circle class="o" cx="208.4" cy="310.8" r="0.9"/><circle class="b" cx="188.4" cy="308.4" r="0.9"/><circle class="g" cx="188.4" cy="298.3" r="1.25"/><circle class="p" cx="188.4" cy="331.1" r="0.9"/><circle class="o" cx="188.4" cy="304.1" r="0.9"/><circle class="b" cx="221.9" cy="297.4" r="0.9"/><circle class="g" cx="221.9" cy="296.5" r="1.25"/><circle class="p" cx="221.9" cy="321.3" r="0.9"/><circle class="o" cx="221.9" cy="293.9" r="0.9"/><circle class="b" cx="196.3" cy="306.5" r="0.9"/><circle class="b" cx="196.3" cy="317.1" r="0.9"/><circle class="g" cx="196.3" cy="300.5" r="1.25"/><circle class="g" cx="196.3" cy="314.2" r="1.25"/><circle class="p" cx="196.3" cy="329.1" r="0.9"/><circle class="o" cx="196.3" cy="301.9" r="0.9"/><circle class="o" cx="196.3" cy="312.1" r="0.9"/><circle class="b" cx="189.8" cy="311.4" r="0.9"/><circle class="g" cx="189.8" cy="307.1" r="1.25"/><circle class="p" cx="189.8" cy="333.2" r="0.9"/><circle class="o" cx="189.8" cy="306.5" r="0.9"/><circle class="b" cx="151.5" cy="322.5" r="0.9"/><circle class="g" cx="151.5" cy="318.7" r="1.25"/><circle class="p" cx="151.5" cy="342.5" r="0.9"/><circle class="o" cx="151.5" cy="318.5" r="0.9"/><circle class="b" cx="208.3" cy="296.2" r="0.9"/><circle class="g" cx="208.3" cy="246.7" r="1.25"/><circle class="g" cx="208.3" cy="292.4" r="1.25"/><circle class="p" cx="208.3" cy="321.1" r="0.9"/><circle class="o" cx="208.3" cy="292.4" r="0.9"/><circle class="b" cx="175.5" cy="325.2" r="0.9"/><circle class="b" cx="175.5" cy="325.6" r="0.9"/><circle class="g" cx="175.5" cy="318.7" r="1.25"/><circle class="g" cx="175.5" cy="319.6" r="1.25"/><circle class="p" cx="175.5" cy="344" r="0.9"/><circle class="p" cx="175.5" cy="344.2" r="0.9"/><circle class="o" cx="175.5" cy="320.8" r="0.9"/><circle class="o" cx="175.5" cy="321" r="0.9"/><circle class="b" cx="247.1" cy="268.5" r="0.9"/><circle class="g" cx="247.1" cy="262.6" r="1.25"/><circle class="o" cx="247.1" cy="265" r="0.9"/><circle class="g" cx="239" cy="267" r="1.25"/><circle class="g" cx="239" cy="282" r="1.25"/><circle class="b" cx="230.7" cy="291.8" r="0.9"/><circle class="g" cx="230.7" cy="289.1" r="1.25"/><circle class="p" cx="230.7" cy="319" r="0.9"/><circle class="o" cx="230.7" cy="288" r="0.9"/><circle class="b" cx="229.5" cy="296" r="0.9"/><circle class="g" cx="229.5" cy="294.1" r="1.25"/><circle class="p" cx="229.5" cy="319.9" r="0.9"/><circle class="o" cx="229.5" cy="291.8" r="0.9"/><circle class="b" cx="186.4" cy="311.4" r="0.9"/><circle class="g" cx="186.4" cy="306.6" r="1.25"/><circle class="p" cx="186.4" cy="332.5" r="0.9"/><circle class="o" cx="186.4" cy="307.4" r="0.9"/><circle class="b" cx="189.3" cy="317.4" r="0.9"/><circle class="g" cx="189.3" cy="315.6" r="1.25"/><circle class="p" cx="189.3" cy="337.8" r="0.9"/><circle class="o" cx="189.3" cy="312.8" r="0.9"/><circle class="p" cx="269.5" cy="296" r="0.9"/><circle class="b" cx="199.9" cy="319.7" r="0.9"/><circle class="g" cx="199.9" cy="315.5" r="1.25"/><circle class="p" cx="199.9" cy="338.7" r="0.9"/><circle class="o" cx="199.9" cy="315.6" r="0.9"/><circle class="b" cx="174.3" cy="322.2" r="0.9"/><circle class="b" cx="174.3" cy="323.8" r="0.9"/><circle class="g" cx="174.3" cy="318.4" r="1.25"/><circle class="g" cx="174.3" cy="319.7" r="1.25"/><circle class="p" cx="174.3" cy="341.2" r="0.9"/><circle class="p" cx="174.3" cy="343.6" r="0.9"/><circle class="o" cx="174.3" cy="317.3" r="0.9"/><circle class="o" cx="174.3" cy="319.1" r="0.9"/><circle class="b" cx="218.9" cy="320.4" r="0.9"/><circle class="g" cx="218.9" cy="314.2" r="1.25"/><circle class="p" cx="218.9" cy="339.9" r="0.9"/><circle class="o" cx="218.9" cy="316.9" r="0.9"/><circle class="b" cx="192" cy="311.5" r="0.9"/><circle class="g" cx="192" cy="313.3" r="1.25"/><circle class="p" cx="192" cy="332.7" r="0.9"/><circle class="o" cx="192" cy="307.9" r="0.9"/><circle class="b" cx="167.8" cy="324" r="0.9"/><circle class="g" cx="167.8" cy="325.3" r="1.25"/><circle class="p" cx="167.8" cy="343.6" r="0.9"/><circle class="o" cx="167.8" cy="319.3" r="0.9"/><circle class="b" cx="220.9" cy="299.1" r="0.9"/><circle class="g" cx="220.9" cy="295.3" r="1.25"/><circle class="p" cx="220.9" cy="323.7" r="0.9"/><circle class="o" cx="220.9" cy="294.3" r="0.9"/><circle class="b" cx="171" cy="259" r="0.9"/><circle class="g" cx="171" cy="272.7" r="1.25"/><circle class="p" cx="171" cy="290.5" r="0.9"/><circle class="o" cx="171" cy="256.5" r="0.9"/><circle class="b" cx="247.5" cy="172.2" r="0.9"/><circle class="b" cx="247.5" cy="321" r="0.9"/><circle class="g" cx="247.5" cy="270" r="1.25"/><circle class="g" cx="247.5" cy="278" r="1.25"/><circle class="g" cx="247.5" cy="316.5" r="1.25"/><circle class="p" cx="247.5" cy="217.3" r="0.9"/><circle class="p" cx="247.5" cy="309.5" r="0.9"/><circle class="p" cx="247.5" cy="342" r="0.9"/><circle class="o" cx="247.5" cy="170.5" r="0.9"/><circle class="o" cx="247.5" cy="317.5" r="0.9"/><circle class="b" cx="244.5" cy="264" r="0.9"/><circle class="b" cx="244.5" cy="292" r="0.9"/><circle class="g" cx="244.5" cy="270" r="1.25"/><circle class="p" cx="244.5" cy="301" r="0.9"/><circle class="p" cx="244.5" cy="318" r="0.9"/><circle class="o" cx="244.5" cy="261.5" r="0.9"/><circle class="o" cx="244.5" cy="287.5" r="0.9"/><circle class="b" cx="238" cy="253.5" r="0.9"/><circle class="b" cx="238" cy="289" r="0.9"/><circle class="g" cx="238" cy="283" r="1.25"/><circle class="o" cx="238" cy="251" r="0.9"/><circle class="g" cx="252" cy="239.5" r="1.25"/><circle class="p" cx="252" cy="321" r="0.9"/><circle class="o" cx="252" cy="293" r="0.9"/><circle class="b" cx="187.4" cy="313.2" r="0.9"/><circle class="b" cx="187.4" cy="317.1" r="0.9"/><circle class="b" cx="187.4" cy="317.2" r="0.9"/><circle class="g" cx="187.4" cy="308.9" r="1.25"/><circle class="g" cx="187.4" cy="310.3" r="1.25"/><circle class="g" cx="187.4" cy="316.8" r="1.25"/><circle class="p" cx="187.4" cy="334.7" r="0.9"/><circle class="p" cx="187.4" cy="337.1" r="0.9"/><circle class="p" cx="187.4" cy="338.4" r="0.9"/><circle class="o" cx="187.4" cy="309.4" r="0.9"/><circle class="o" cx="187.4" cy="312.6" r="0.9"/><circle class="o" cx="187.4" cy="313.7" r="0.9"/><circle class="b" cx="234.5" cy="278.7" r="0.9"/><circle class="b" cx="234.5" cy="319.8" r="0.9"/><circle class="g" cx="234.5" cy="260.5" r="1.25"/><circle class="g" cx="234.5" cy="271.8" r="1.25"/><circle class="g" cx="234.5" cy="314.1" r="1.25"/><circle class="p" cx="234.5" cy="306.4" r="0.9"/><circle class="p" cx="234.5" cy="339.8" r="0.9"/><circle class="o" cx="234.5" cy="257" r="0.9"/><circle class="o" cx="234.5" cy="274.7" r="0.9"/><circle class="o" cx="234.5" cy="315.6" r="0.9"/><circle class="g" cx="280.5" cy="275.5" r="1.25"/><circle class="p" cx="280.5" cy="295.5" r="0.9"/><circle class="b" cx="199" cy="202.8" r="0.9"/><circle class="b" cx="199" cy="210" r="0.9"/><circle class="g" cx="199" cy="237" r="1.25"/><circle class="p" cx="199" cy="249" r="0.9"/><circle class="o" cx="199" cy="201" r="0.9"/><circle class="o" cx="199" cy="208.2" r="0.9"/><circle class="b" cx="203.3" cy="302.7" r="0.9"/><circle class="g" cx="203.3" cy="293.8" r="1.25"/><circle class="p" cx="203.3" cy="326.9" r="0.9"/><circle class="o" cx="203.3" cy="298" r="0.9"/><circle class="b" cx="225.7" cy="288.1" r="0.9"/><circle class="g" cx="225.7" cy="283.6" r="1.25"/><circle class="p" cx="225.7" cy="313.2" r="0.9"/><circle class="o" cx="225.7" cy="284.8" r="0.9"/><circle class="b" cx="211.5" cy="199.2" r="0.9"/><circle class="g" cx="211.5" cy="235.5" r="1.25"/><circle class="p" cx="211.5" cy="240" r="0.9"/><circle class="o" cx="211.5" cy="197.4" r="0.9"/><circle class="b" cx="191.8" cy="313.7" r="0.9"/><circle class="g" cx="191.8" cy="302.9" r="1.25"/><circle class="o" cx="191.8" cy="309" r="0.9"/><circle class="b" cx="174.5" cy="315.2" r="0.9"/><circle class="b" cx="174.5" cy="326.8" r="0.9"/><circle class="g" cx="174.5" cy="316.6" r="1.25"/><circle class="g" cx="174.5" cy="316.9" r="1.25"/><circle class="p" cx="174.5" cy="335.2" r="0.9"/><circle class="p" cx="174.5" cy="345.5" r="0.9"/><circle class="o" cx="174.5" cy="311.1" r="0.9"/><circle class="o" cx="174.5" cy="322.7" r="0.9"/><circle class="g" cx="195.5" cy="269" r="1.25"/><circle class="g" cx="195.5" cy="277.5" r="1.25"/><circle class="o" cx="195.5" cy="267" r="0.9"/><circle class="g" cx="205.7" cy="243.5" r="1.25"/><circle class="b" cx="227.1" cy="286" r="0.9"/><circle class="b" cx="227.1" cy="298.8" r="0.9"/><circle class="g" cx="227.1" cy="279.1" r="1.25"/><circle class="g" cx="227.1" cy="294.9" r="1.25"/><circle class="p" cx="227.1" cy="312.2" r="0.9"/><circle class="p" cx="227.1" cy="322.9" r="0.9"/><circle class="o" cx="227.1" cy="282.3" r="0.9"/><circle class="o" cx="227.1" cy="294.4" r="0.9"/><circle class="b" cx="183" cy="277.5" r="0.9"/><circle class="g" cx="183" cy="283.5" r="1.25"/><circle class="o" cx="183" cy="274.5" r="0.9"/><circle class="b" cx="204" cy="326.2" r="0.9"/><circle class="g" cx="204" cy="318.7" r="1.25"/><circle class="p" cx="204" cy="345" r="0.9"/><circle class="o" cx="204" cy="282" r="0.9"/><circle class="o" cx="204" cy="321.6" r="0.9"/><circle class="b" cx="222.9" cy="307.8" r="0.9"/><circle class="g" cx="222.9" cy="301.6" r="1.25"/><circle class="p" cx="222.9" cy="330.2" r="0.9"/><circle class="o" cx="222.9" cy="304.2" r="0.9"/><circle class="b" cx="237" cy="245" r="0.9"/><circle class="b" cx="237" cy="247" r="0.9"/><circle class="b" cx="237" cy="262" r="0.9"/><circle class="b" cx="237" cy="283" r="0.9"/><circle class="b" cx="237" cy="284" r="0.9"/><circle class="b" cx="237" cy="311" r="0.9"/><circle class="g" cx="237" cy="309" r="1.25"/><circle class="p" cx="237" cy="278.5" r="0.9"/><circle class="o" cx="237" cy="242" r="0.9"/><circle class="o" cx="237" cy="244.5" r="0.9"/><circle class="o" cx="237" cy="259.5" r="0.9"/><circle class="o" cx="237" cy="280.5" r="0.9"/><circle class="o" cx="237" cy="303" r="0.9"/><circle class="b" cx="204.3" cy="314.2" r="0.9"/><circle class="g" cx="204.3" cy="313.3" r="1.25"/><circle class="p" cx="204.3" cy="335.5" r="0.9"/><circle class="o" cx="204.3" cy="310.2" r="0.9"/><circle class="b" cx="209" cy="282.5" r="0.9"/><circle class="b" cx="206" cy="297.8" r="0.9"/><circle class="g" cx="206" cy="295" r="1.25"/><circle class="p" cx="206" cy="322.3" r="0.9"/><circle class="o" cx="206" cy="293.3" r="0.9"/><circle class="b" cx="192.4" cy="326.3" r="0.9"/><circle class="g" cx="192.4" cy="318.3" r="1.25"/><circle class="o" cx="192.4" cy="322.4" r="0.9"/><circle class="b" cx="305.8" cy="265.2" r="0.9"/><circle class="g" cx="305.8" cy="278" r="1.25"/><circle class="p" cx="305.8" cy="295.2" r="0.9"/><circle class="o" cx="305.8" cy="262.3" r="0.9"/><circle class="b" cx="215.5" cy="325.6" r="0.9"/><circle class="g" cx="215.5" cy="319.8" r="1.25"/><circle class="p" cx="215.5" cy="344.8" r="0.9"/><circle class="o" cx="215.5" cy="321.4" r="0.9"/><circle class="b" cx="202.8" cy="303.5" r="0.9"/><circle class="g" cx="202.8" cy="300.8" r="1.25"/><circle class="p" cx="202.8" cy="326.4" r="0.9"/><circle class="o" cx="202.8" cy="298.8" r="0.9"/><circle class="b" cx="220.2" cy="195.8" r="0.9"/><circle class="p" cx="220.2" cy="237.3" r="0.9"/><circle class="o" cx="220.2" cy="194" r="0.9"/><circle class="b" cx="171.3" cy="332.7" r="0.9"/><circle class="g" cx="171.3" cy="333.4" r="1.25"/><circle class="p" cx="171.3" cy="351.2" r="0.9"/><circle class="o" cx="171.3" cy="328.7" r="0.9"/><circle class="b" cx="216.8" cy="314.4" r="0.9"/><circle class="g" cx="216.8" cy="310.3" r="1.25"/><circle class="p" cx="216.8" cy="335.5" r="0.9"/><circle class="o" cx="216.8" cy="310.1" r="0.9"/><circle class="b" cx="196.5" cy="272.5" r="0.9"/><circle class="b" cx="173.1" cy="324.1" r="0.9"/><circle class="g" cx="173.1" cy="319.3" r="1.25"/><circle class="p" cx="173.1" cy="343.3" r="0.9"/><circle class="o" cx="173.1" cy="319.3" r="0.9"/><circle class="b" cx="210.4" cy="295.1" r="0.9"/><circle class="b" cx="210.4" cy="301.5" r="0.9"/><circle class="g" cx="210.4" cy="292.7" r="1.25"/><circle class="g" cx="210.4" cy="293.1" r="1.25"/><circle class="p" cx="210.4" cy="320.3" r="0.9"/><circle class="p" cx="210.4" cy="325.5" r="0.9"/><circle class="o" cx="210.4" cy="291.8" r="0.9"/><circle class="o" cx="210.4" cy="296.9" r="0.9"/><circle class="b" cx="172.6" cy="328" r="0.9"/><circle class="b" cx="172.6" cy="328.9" r="0.9"/><circle class="g" cx="172.6" cy="317.6" r="1.25"/><circle class="g" cx="172.6" cy="320.2" r="1.25"/><circle class="p" cx="172.6" cy="346.6" r="0.9"/><circle class="p" cx="172.6" cy="346.7" r="0.9"/><circle class="o" cx="172.6" cy="324.3" r="0.9"/><circle class="o" cx="172.6" cy="324.9" r="0.9"/><circle class="b" cx="265.5" cy="251.5" r="0.9"/><circle class="g" cx="265.5" cy="266.5" r="1.25"/><circle class="p" cx="265.5" cy="283.5" r="0.9"/><circle class="b" cx="222.3" cy="309.8" r="0.9"/><circle class="g" cx="222.3" cy="304" r="1.25"/><circle class="p" cx="222.3" cy="331" r="0.9"/><circle class="o" cx="222.3" cy="306" r="0.9"/><circle class="b" cx="210.8" cy="307.7" r="0.9"/><circle class="g" cx="210.8" cy="308.8" r="1.25"/><circle class="p" cx="210.8" cy="329.8" r="0.9"/><circle class="o" cx="210.8" cy="303.8" r="0.9"/><circle class="b" cx="190.1" cy="313.4" r="0.9"/><circle class="g" cx="190.1" cy="310.5" r="1.25"/><circle class="p" cx="190.1" cy="335.7" r="0.9"/><circle class="o" cx="190.1" cy="308.8" r="0.9"/><circle class="b" cx="225.9" cy="293.5" r="0.9"/><circle class="g" cx="225.9" cy="288.5" r="1.25"/><circle class="p" cx="225.9" cy="318.1" r="0.9"/><circle class="o" cx="225.9" cy="289.3" r="0.9"/><circle class="b" cx="212.4" cy="298.5" r="0.9"/><circle class="g" cx="212.4" cy="298" r="1.25"/><circle class="p" cx="212.4" cy="321.8" r="0.9"/><circle class="o" cx="212.4" cy="294.8" r="0.9"/><circle class="g" cx="197" cy="279" r="1.25"/></g>
<line x1="66.00" y1="425.40" x2="481.50" y2="36.76" stroke="#0000ff" stroke-width="1.00" stroke-dasharray="2.6 1.16"/><line x1="66.00" y1="425.40" x2="78.26" y2="11.95" stroke="#ff0000" stroke-width="1.00" stroke-dasharray="2.6 1.16"/><line x1="66.00" y1="425.40" x2="481.50" y2="57.43" stroke="#008000" stroke-width="2.00" stroke-dasharray="6.5 2.8"/><line x1="66.00" y1="425.40" x2="481.50" y2="111.18" stroke="#800080" stroke-width="1.00" stroke-dasharray="2.6 1.16"/><line x1="66.00" y1="425.40" x2="481.50" y2="28.49" stroke="#ffa500" stroke-width="1.00" stroke-dasharray="2.6 1.16"/></g>
<rect x="66.00" y="11.95" width="415.50" height="413.45" fill="none" stroke="#333" stroke-width="0.7"/>
<g stroke="#333" stroke-width="0.7"><line x1="66.00" y1="425.40" x2="66.00" y2="427.80"/><line x1="66.00" y1="425.40" x2="63.60" y2="425.40"/><line x1="135.25" y1="425.40" x2="135.25" y2="427.80"/><line x1="66.00" y1="356.49" x2="63.60" y2="356.49"/><line x1="204.50" y1="425.40" x2="204.50" y2="427.80"/><line x1="66.00" y1="287.58" x2="63.60" y2="287.58"/><line x1="273.75" y1="425.40" x2="273.75" y2="427.80"/><line x1="66.00" y1="218.67" x2="63.60" y2="218.67"/><line x1="343.00" y1="425.40" x2="343.00" y2="427.80"/><line x1="66.00" y1="149.77" x2="63.60" y2="149.77"/><line x1="412.25" y1="425.40" x2="412.25" y2="427.80"/><line x1="66.00" y1="80.86" x2="63.60" y2="80.86"/><line x1="481.50" y1="425.40" x2="481.50" y2="427.80"/><line x1="66.00" y1="11.95" x2="63.60" y2="11.95"/></g>
<g font-size="18.6"><text x="66.00" y="444.90" text-anchor="middle">0.0</text><text x="60.80" y="432.40" text-anchor="end">0.0</text><text x="135.25" y="444.90" text-anchor="middle">0.5</text><text x="60.80" y="363.49" text-anchor="end">0.5</text><text x="204.50" y="444.90" text-anchor="middle">1.0</text><text x="60.80" y="294.58" text-anchor="end">1.0</text><text x="273.75" y="444.90" text-anchor="middle">1.5</text><text x="60.80" y="225.67" text-anchor="end">1.5</text><text x="343.00" y="444.90" text-anchor="middle">2.0</text><text x="60.80" y="156.77" text-anchor="end">2.0</text><text x="412.25" y="444.90" text-anchor="middle">2.5</text><text x="60.80" y="87.86" text-anchor="end">2.5</text><text x="481.50" y="444.90" text-anchor="middle">3.0</text><text x="60.80" y="18.95" text-anchor="end">3.0</text></g>
<g font-size="18.8"><text x="189.6" y="470.2">mean</text><text x="248.9" y="470.2" font-style="italic">d</text><text x="261.4" y="462" font-size="13.16">2DVD</text><text x="261.3" y="474.6" font-size="13.16">max</text><text x="304.7" y="470.2">[mm]</text></g>
<g font-size="19" transform="translate(22.6,315.1) rotate(-90)"><text x="0" y="0">mean</text><text x="59.9" y="0" font-style="italic">d</text><text x="72.5" y="-8.1" font-size="13.3">LIRAS-ice</text><text x="72.4" y="4.6" font-size="13.3">max</text><text x="140.1" y="0">[mm]</text></g>
<rect x="165.4" y="18.5" width="309.1" height="128.8" rx="2.2" ry="2.2" fill="#fff" fill-opacity="0.93" stroke="#cccccc" stroke-opacity="0.9" stroke-width="0.9"/>
<line x1="170.5" y1="33.00" x2="197.5" y2="33.00" stroke="#a8a8a8" stroke-width="1.30" stroke-dasharray="3.7 1.6"/><line x1="170.5" y1="54.20" x2="197.5" y2="54.20" stroke="#0000ff" stroke-width="1.00" stroke-dasharray="2.6 1.16"/><line x1="170.5" y1="74.35" x2="197.5" y2="74.35" stroke="#ff0000" stroke-width="1.00" stroke-dasharray="2.6 1.16"/><line x1="170.5" y1="94.50" x2="197.5" y2="94.50" stroke="#008000" stroke-width="2.00" stroke-dasharray="6.5 2.8"/><line x1="170.5" y1="114.65" x2="197.5" y2="114.65" stroke="#800080" stroke-width="1.00" stroke-dasharray="2.6 1.16"/><line x1="170.5" y1="134.80" x2="197.5" y2="134.80" stroke="#ffa500" stroke-width="1.00" stroke-dasharray="2.6 1.16"/>
<g font-size="13.40"><text x="208.30" y="36.60">mean</text><text x="250.50" y="36.60" font-style="italic">d</text><text x="260.80" y="31.50" font-size="9.38">LIRAS-ice</text><text x="260.80" y="40.70" font-size="9.38">max</text><text x="308.40" y="36.60">= mean</text><text x="366.10" y="36.60" font-style="italic">d</text><text x="376.30" y="31.50" font-size="9.38">2DVD</text><text x="376.30" y="40.70" font-size="9.38">max</text><text x="208.30" y="58.90">aggregates mixture fit: y = 0.94 x</text><text x="208.30" y="79.10">broad-branched crystal fit: y = 33.88 x</text><text x="208.30" y="99.30">bullet rosettes fit: y = 0.89 x</text><text x="208.30" y="119.45">column-like combi fit: y = 0.76 x</text><text x="208.30" y="139.60">plate-like combi fit: y = 0.96 x</text></g>
</svg>
</body></html>
